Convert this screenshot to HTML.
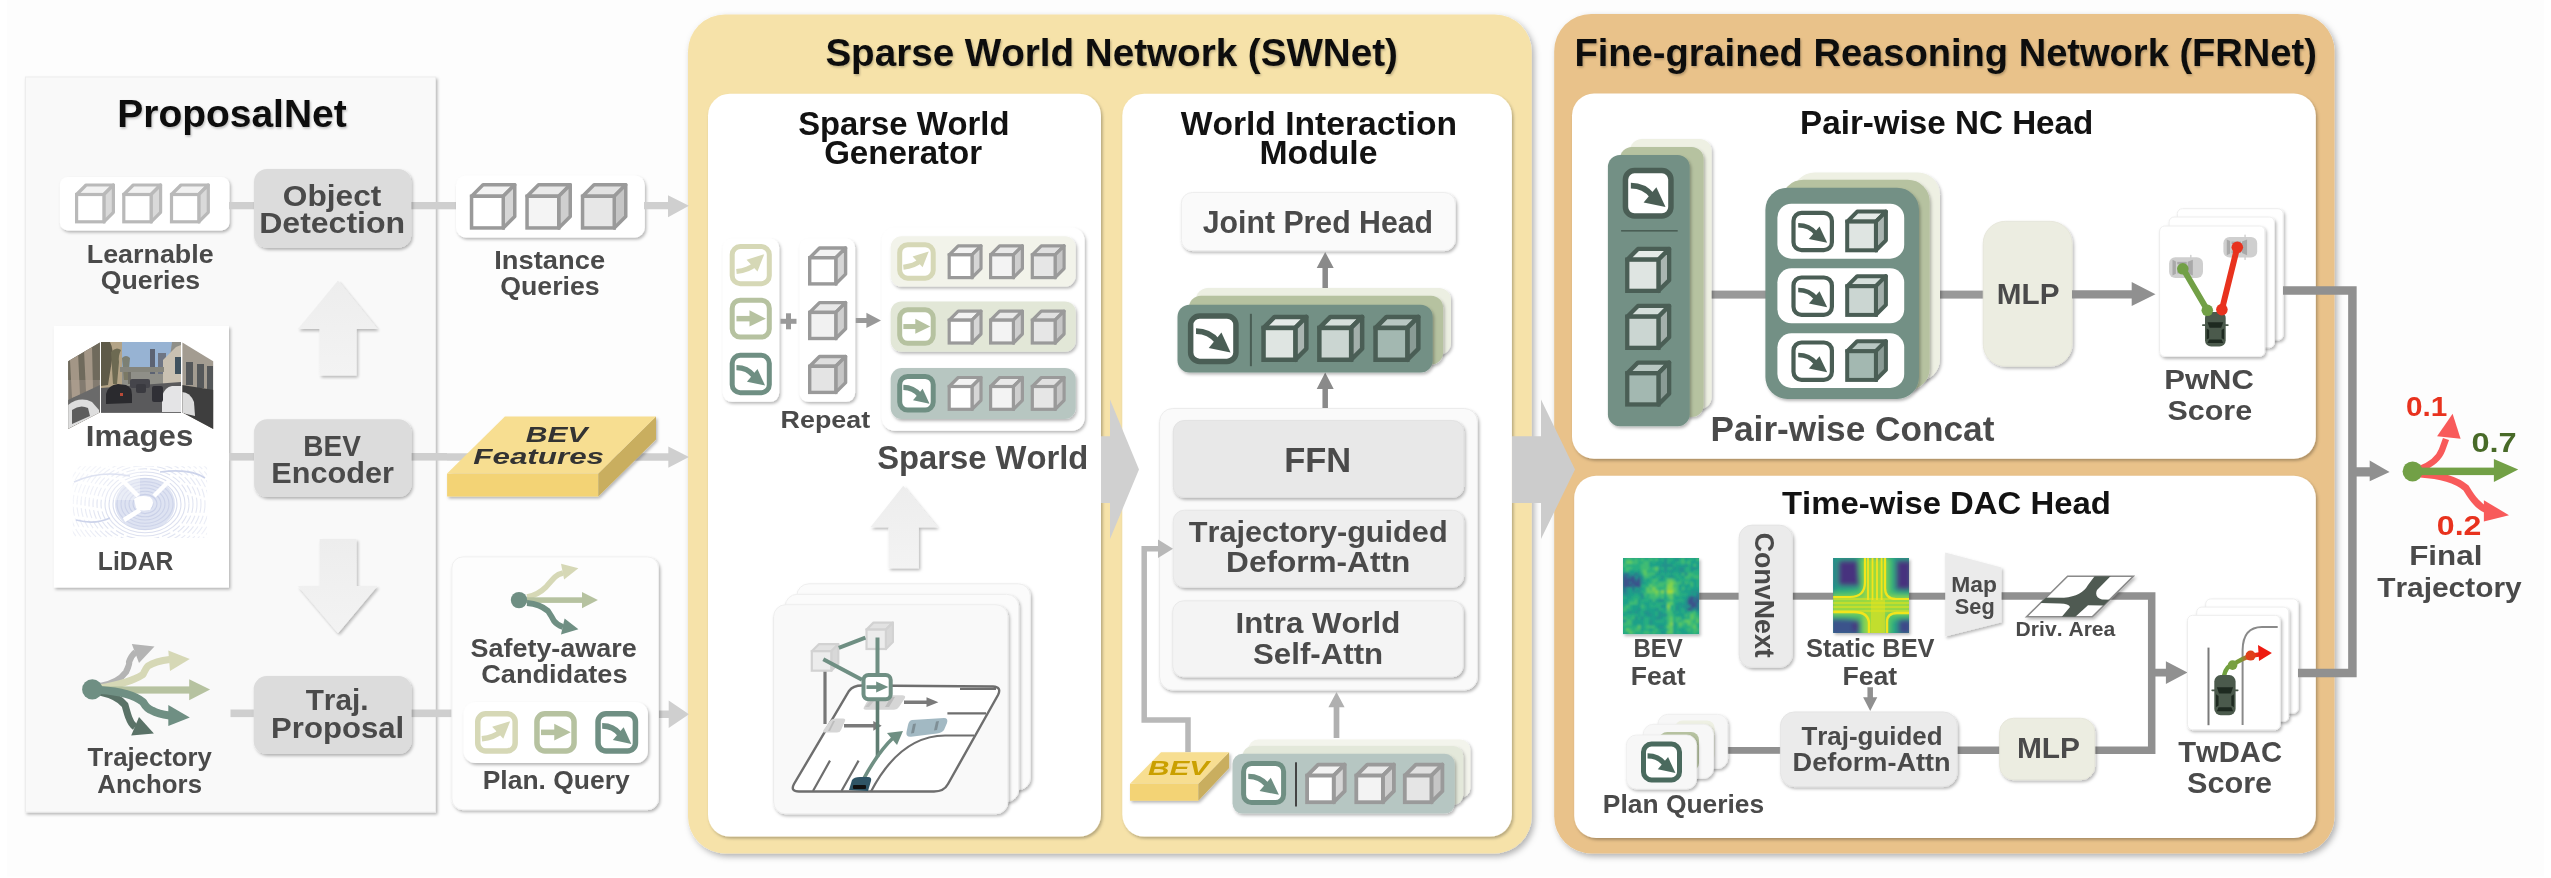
<!DOCTYPE html><html><head><meta charset="utf-8"><style>html,body{margin:0;padding:0;background:#fcfcfc;overflow:hidden;width:2551px;height:878px}text{font-family:"Liberation Sans",sans-serif;font-kerning:none}</style></head><body><svg width="2551" height="878" viewBox="0 0 2551 878" style="display:block;will-change:transform;font-family:'Liberation Sans',sans-serif;font-kerning:none">
<defs>
<filter id="sh" x="-10%" y="-10%" width="130%" height="130%"><feDropShadow dx="1.5" dy="2" stdDeviation="1.6" flood-color="#000" flood-opacity="0.28"/></filter>
<filter id="shb" x="-10%" y="-10%" width="130%" height="130%"><feDropShadow dx="2.5" dy="3" stdDeviation="3" flood-color="#000" flood-opacity="0.3"/></filter>
<filter id="tsh" x="-5%" y="-20%" width="110%" height="150%"><feDropShadow dx="1" dy="1.5" stdDeviation="0.8" flood-color="#000" flood-opacity="0.25"/></filter>
</defs>

<rect x="0.00" y="0.00" width="2551.00" height="878.00" rx="0.00" fill="#ffffff" stroke="none" stroke-width="0.00" />
<rect x="7.00" y="0.00" width="2537.00" height="876.50" rx="0.00" fill="#fdfdfd" stroke="none" stroke-width="0.00" />
<rect x="25.50" y="77.00" width="410.00" height="735.00" rx="0.00" fill="#f9f9f9" stroke="#ededed" stroke-width="1.00" filter="url(#sh)"/>
<text x="117.29" y="126.80" font-size="38.52" textLength="229.38" lengthAdjust="spacingAndGlyphs" fill="#111111" style="font-weight:700;" filter="url(#tsh)">ProposalNet</text>
<rect x="688.00" y="14.50" width="843.70" height="838.90" rx="37.00" fill="#f6e2a9" stroke="none" stroke-width="0.00" filter="url(#shb)"/>
<text x="825.39" y="66.20" font-size="39.68" textLength="572.53" lengthAdjust="spacingAndGlyphs" fill="#111111" style="font-weight:700;" filter="url(#tsh)">Sparse World Network (SWNet)</text>
<rect x="708.00" y="93.70" width="393.00" height="742.90" rx="22.00" fill="#ffffff" stroke="none" stroke-width="0.00" filter="url(#sh)"/>
<rect x="1122.30" y="93.70" width="389.60" height="742.90" rx="22.00" fill="#ffffff" stroke="none" stroke-width="0.00" filter="url(#sh)"/>
<rect x="1554.20" y="14.00" width="780.30" height="839.40" rx="37.00" fill="#e9c28a" stroke="none" stroke-width="0.00" filter="url(#shb)"/>
<text x="1574.45" y="66.20" font-size="39.68" textLength="742.44" lengthAdjust="spacingAndGlyphs" fill="#111111" style="font-weight:700;" filter="url(#tsh)">Fine-grained Reasoning Network (FRNet)</text>
<rect x="1572.00" y="93.60" width="743.80" height="365.10" rx="22.00" fill="#ffffff" stroke="none" stroke-width="0.00" filter="url(#sh)"/>
<rect x="1574.20" y="475.80" width="741.60" height="362.20" rx="22.00" fill="#ffffff" stroke="none" stroke-width="0.00" filter="url(#sh)"/>
<rect x="59.90" y="177.00" width="169.50" height="53.40" rx="8.00" fill="#ffffff" stroke="none" stroke-width="0.00" filter="url(#sh)"/>
<polygon points="76.60,194.50 86.10,185.00 113.40,185.00 103.90,194.50" fill="#f2f2f2" stroke="#b9b9b9" stroke-width="3.20" stroke-linejoin="round"/>
<polygon points="103.90,194.50 113.40,185.00 113.40,212.30 103.90,221.80" fill="#d9d9d9" stroke="#b9b9b9" stroke-width="3.20" stroke-linejoin="round"/>
<rect x="76.60" y="194.50" width="27.30" height="27.30" fill="#ffffff" stroke="#b9b9b9" stroke-width="3.20"/>
<polygon points="123.80,194.50 133.30,185.00 160.60,185.00 151.10,194.50" fill="#f2f2f2" stroke="#b9b9b9" stroke-width="3.20" stroke-linejoin="round"/>
<polygon points="151.10,194.50 160.60,185.00 160.60,212.30 151.10,221.80" fill="#d9d9d9" stroke="#b9b9b9" stroke-width="3.20" stroke-linejoin="round"/>
<rect x="123.80" y="194.50" width="27.30" height="27.30" fill="#ffffff" stroke="#b9b9b9" stroke-width="3.20"/>
<polygon points="171.50,194.50 181.00,185.00 208.30,185.00 198.80,194.50" fill="#f2f2f2" stroke="#b9b9b9" stroke-width="3.20" stroke-linejoin="round"/>
<polygon points="198.80,194.50 208.30,185.00 208.30,212.30 198.80,221.80" fill="#d9d9d9" stroke="#b9b9b9" stroke-width="3.20" stroke-linejoin="round"/>
<rect x="171.50" y="194.50" width="27.30" height="27.30" fill="#ffffff" stroke="#b9b9b9" stroke-width="3.20"/>
<rect x="229.00" y="202.00" width="25.00" height="7.30" rx="0.00" fill="#cfcfcf" stroke="none" stroke-width="0.00" />
<rect x="411.00" y="202.00" width="45.00" height="7.30" rx="0.00" fill="#cfcfcf" stroke="none" stroke-width="0.00" />
<rect x="254.00" y="169.00" width="157.20" height="78.90" rx="13.00" fill="#dcdcdc" stroke="none" stroke-width="0.00" filter="url(#sh)"/>
<text x="282.80" y="205.70" font-size="30.23" textLength="98.48" lengthAdjust="spacingAndGlyphs" fill="#4a4a4a" style="font-weight:700;" >Object</text>
<text x="259.16" y="232.80" font-size="30.23" textLength="146.03" lengthAdjust="spacingAndGlyphs" fill="#4a4a4a" style="font-weight:700;" >Detection</text>
<text x="86.80" y="262.60" font-size="26.02" textLength="126.81" lengthAdjust="spacingAndGlyphs" fill="#4a4a4a" style="font-weight:700;" >Learnable</text>
<text x="100.70" y="288.60" font-size="26.02" textLength="99.49" lengthAdjust="spacingAndGlyphs" fill="#4a4a4a" style="font-weight:700;" >Queries</text>
<rect x="456.00" y="175.40" width="188.80" height="62.10" rx="10.00" fill="#ffffff" stroke="none" stroke-width="0.00" filter="url(#sh)"/>
<polygon points="471.55,196.25 483.05,184.75 514.75,184.75 503.25,196.25" fill="#f3f3f3" stroke="#9a9a9a" stroke-width="3.50" stroke-linejoin="round"/>
<polygon points="503.25,196.25 514.75,184.75 514.75,216.45 503.25,227.95" fill="#d6d6d6" stroke="#9a9a9a" stroke-width="3.50" stroke-linejoin="round"/>
<rect x="471.55" y="196.25" width="31.70" height="31.70" fill="#ffffff" stroke="#9a9a9a" stroke-width="3.50"/>
<polygon points="527.05,196.25 538.55,184.75 570.25,184.75 558.75,196.25" fill="#e9e9e9" stroke="#9a9a9a" stroke-width="3.50" stroke-linejoin="round"/>
<polygon points="558.75,196.25 570.25,184.75 570.25,216.45 558.75,227.95" fill="#cfcfcf" stroke="#9a9a9a" stroke-width="3.50" stroke-linejoin="round"/>
<rect x="527.05" y="196.25" width="31.70" height="31.70" fill="#f4f4f4" stroke="#9a9a9a" stroke-width="3.50"/>
<polygon points="582.55,196.25 594.05,184.75 625.75,184.75 614.25,196.25" fill="#e2e2e2" stroke="#9a9a9a" stroke-width="3.50" stroke-linejoin="round"/>
<polygon points="614.25,196.25 625.75,184.75 625.75,216.45 614.25,227.95" fill="#c6c6c6" stroke="#9a9a9a" stroke-width="3.50" stroke-linejoin="round"/>
<rect x="582.55" y="196.25" width="31.70" height="31.70" fill="#e7e7e7" stroke="#9a9a9a" stroke-width="3.50"/>
<polygon points="644.00,202.00 668.00,202.00 668.00,195.30 689.00,205.65 668.00,217.30 668.00,209.30 644.00,209.30" fill="#cfcfcf" />
<text x="494.27" y="268.90" font-size="25.87" textLength="110.86" lengthAdjust="spacingAndGlyphs" fill="#4a4a4a" style="font-weight:700;" >Instance</text>
<text x="500.31" y="295.40" font-size="25.87" textLength="99.39" lengthAdjust="spacingAndGlyphs" fill="#4a4a4a" style="font-weight:700;" >Queries</text>
<linearGradient id="ga" x1="0" y1="0" x2="0" y2="1"><stop offset="0" stop-color="#ededed"/><stop offset="1" stop-color="#f3f3f3"/></linearGradient>
<polygon points="338.00,280.50 377.50,329.00 356.50,329.00 356.50,375.40 319.80,375.40 319.80,329.00 297.90,329.00" fill="url(#ga)" filter="url(#sh)" opacity="0.95"/>
<polygon points="319.80,538.90 356.50,538.90 356.50,586.00 377.50,586.00 338.00,633.30 297.90,586.00 319.80,586.00" fill="url(#ga)" filter="url(#sh)" opacity="0.95"/>
<rect x="53.90" y="325.90" width="175.10" height="261.60" rx="0.00" fill="#ffffff" stroke="none" stroke-width="0.00" filter="url(#sh)"/>
<rect x="229.00" y="453.00" width="25.00" height="7.60" rx="0.00" fill="#cfcfcf" stroke="none" stroke-width="0.00" />
<rect x="411.00" y="453.00" width="36.00" height="7.60" rx="0.00" fill="#cfcfcf" stroke="none" stroke-width="0.00" />
<clipPath id="cpl"><polygon points="68.2,361.2 99.9,342.4 99.9,412.4 68.2,429"/></clipPath>
<clipPath id="cpr"><polygon points="182.4,342.4 213.2,361.2 213.2,429 182.4,412.4"/></clipPath>
<clipPath id="cpc"><rect x="101" y="342.1" width="80" height="70.6"/></clipPath>
<g clip-path="url(#cpl)">
<rect x="68.00" y="342.00" width="32.00" height="88.00" rx="0.00" fill="#837b70" stroke="none" stroke-width="0.00" />
<rect x="68.00" y="342.00" width="32.00" height="38.00" rx="0.00" fill="#6f6a5c" stroke="none" stroke-width="0.00" />
<path d="M70 360 L78 352 L80 395 L72 398 Z M84 350 L92 345 L93 390 L86 392 Z" fill="#b9aa98" opacity="0.7"/>
<polygon points="68.00,400.00 100.00,385.00 100.00,412.00 68.00,429.00" fill="#6a6a6a" />
<path d="M68 405 Q80 396 92 402 L99 410 L99 413 L68 429 Z" fill="#dedede"/>
<path d="M72 410 Q80 404 88 408 L90 416 L72 424 Z" fill="#3c3c3c" opacity="0.8"/>
</g>
<g clip-path="url(#cpc)">
<rect x="101.00" y="342.00" width="80.00" height="71.00" rx="0.00" fill="#8f8f88" stroke="none" stroke-width="0.00" />
<polygon points="118.00,342.00 172.00,342.00 168.00,372.00 120.00,372.00" fill="#97b3d3" />
<rect x="101.00" y="342.00" width="21.00" height="50.00" rx="0.00" fill="#b3a386" stroke="none" stroke-width="0.00" />
<path d="M101 342 L110 342 Q114 350 112 360 L108 385 L101 386 Z" fill="#5e5a48"/>
<path d="M111 352 Q116 346 121 350 Q118 356 119 362 L117 384 L113 384 Z" fill="#6d6a52"/>
<path d="M122 358 Q126 354 130 358 L128 380 L124 380 Z" fill="#76735c" opacity="0.8"/>
<rect x="150.00" y="349.00" width="5.00" height="25.00" rx="0.00" fill="#5c6372" stroke="none" stroke-width="0.00" />
<rect x="158.00" y="353.00" width="8.00" height="21.00" rx="0.00" fill="#6f7684" stroke="none" stroke-width="0.00" />
<polygon points="163.00,360.00 176.00,347.00 181.00,345.00 181.00,392.00 163.00,390.00" fill="#c9c1b2" />
<rect x="175.00" y="357.00" width="6.00" height="17.00" rx="0.00" fill="#3f525e" stroke="none" stroke-width="0.00" />
<rect x="120.00" y="367.00" width="44.00" height="5.00" rx="0.00" fill="#85857c" stroke="none" stroke-width="0.00" />
<rect x="128.00" y="372.00" width="3.00" height="12.00" rx="0.00" fill="#6e6d65" stroke="none" stroke-width="0.00" />
<polygon points="101.00,388.00 181.00,382.00 181.00,413.00 101.00,413.00" fill="#5a5a5c" />
<rect x="130.00" y="379.00" width="20.00" height="9.00" rx="2.00" fill="#45454b" stroke="none" stroke-width="0.00" />
<path d="M106 394 Q108 385 118 384 L126 385 Q132 387 132 395 L132 403 L106 404 Z" fill="#2a2a2e"/>
<rect x="120.00" y="393.00" width="3.00" height="3.00" rx="0.00" fill="#b84a38" stroke="none" stroke-width="0.00" />
<rect x="136.00" y="384.00" width="10.00" height="9.00" rx="2.00" fill="#3a3a40" stroke="none" stroke-width="0.00" />
<path d="M162 412 L162 396 Q165 387 172 386 L181 386 L181 412 Z" fill="#e4e4e6"/>
<rect x="152.00" y="386.00" width="11.00" height="16.00" rx="2.00" fill="#303036" stroke="none" stroke-width="0.00" />
</g>
<g clip-path="url(#cpr)">
<rect x="182.00" y="342.00" width="32.00" height="88.00" rx="0.00" fill="#a39c91" stroke="none" stroke-width="0.00" />
<rect x="186.00" y="362.00" width="7.00" height="23.00" rx="0.00" fill="#55585a" stroke="none" stroke-width="0.00" />
<rect x="197.00" y="364.00" width="7.00" height="24.00" rx="0.00" fill="#55585a" stroke="none" stroke-width="0.00" />
<rect x="207.00" y="366.00" width="6.00" height="24.00" rx="0.00" fill="#55585a" stroke="none" stroke-width="0.00" />
<polygon points="182.00,385.00 214.00,390.00 214.00,430.00 182.00,413.00" fill="#3e3e3e" />
<path d="M182 392 Q190 392 194 402 L195 416 L182 413 Z" fill="#dcdcdc"/>
</g>
<text x="85.81" y="446.10" font-size="28.78" textLength="107.46" lengthAdjust="spacingAndGlyphs" fill="#4a4a4a" style="font-weight:700;" >Images</text>
<clipPath id="cld"><rect x="72.8" y="466.3" width="134.3" height="71.7"/></clipPath>
<g clip-path="url(#cld)">
<ellipse cx="145" cy="504" rx="30" ry="26" fill="#d3daee" opacity="0.75"/>
<ellipse cx="145" cy="504" rx="8" ry="6.4" fill="none" stroke="#c6cde6" stroke-width="1.1" stroke-dasharray="none" opacity="0.92"/>
<ellipse cx="145" cy="504" rx="12" ry="9.6" fill="none" stroke="#c6cde6" stroke-width="1.1" stroke-dasharray="none" opacity="0.88"/>
<ellipse cx="145" cy="504" rx="16" ry="12.8" fill="none" stroke="#c6cde6" stroke-width="1.1" stroke-dasharray="none" opacity="0.84"/>
<ellipse cx="145" cy="504" rx="20" ry="16.0" fill="none" stroke="#c6cde6" stroke-width="1.1" stroke-dasharray="none" opacity="0.80"/>
<ellipse cx="145" cy="504" rx="24" ry="19.2" fill="none" stroke="#c6cde6" stroke-width="1.1" stroke-dasharray="none" opacity="0.76"/>
<ellipse cx="145" cy="504" rx="28" ry="22.4" fill="none" stroke="#c6cde6" stroke-width="1.1" stroke-dasharray="none" opacity="0.72"/>
<ellipse cx="145" cy="504" rx="32" ry="25.6" fill="none" stroke="#c6cde6" stroke-width="1.1" stroke-dasharray="none" opacity="0.68"/>
<ellipse cx="145" cy="504" rx="36" ry="28.8" fill="none" stroke="#c6cde6" stroke-width="1.1" stroke-dasharray="none" opacity="0.64"/>
<ellipse cx="145" cy="504" rx="40" ry="32.0" fill="none" stroke="#c6cde6" stroke-width="1.1" stroke-dasharray="none" opacity="0.60"/>
<ellipse cx="145" cy="504" rx="44" ry="35.2" fill="none" stroke="#c6cde6" stroke-width="1.1" stroke-dasharray="9 3" opacity="0.56"/>
<ellipse cx="145" cy="504" rx="48" ry="38.4" fill="none" stroke="#c6cde6" stroke-width="1.1" stroke-dasharray="9 3" opacity="0.52"/>
<ellipse cx="145" cy="504" rx="52" ry="41.6" fill="none" stroke="#c6cde6" stroke-width="1.1" stroke-dasharray="9 3" opacity="0.48"/>
<ellipse cx="145" cy="504" rx="56" ry="44.8" fill="none" stroke="#c6cde6" stroke-width="1.1" stroke-dasharray="9 3" opacity="0.44"/>
<ellipse cx="145" cy="504" rx="60" ry="48.0" fill="none" stroke="#c6cde6" stroke-width="1.1" stroke-dasharray="9 3" opacity="0.40"/>
<ellipse cx="145" cy="504" rx="64" ry="51.2" fill="none" stroke="#c6cde6" stroke-width="1.1" stroke-dasharray="9 3" opacity="0.36"/>
<ellipse cx="145" cy="504" rx="68" ry="54.4" fill="none" stroke="#c6cde6" stroke-width="1.1" stroke-dasharray="9 3" opacity="0.32"/>
<ellipse cx="145" cy="504" rx="72" ry="57.6" fill="none" stroke="#c6cde6" stroke-width="1.1" stroke-dasharray="9 3" opacity="0.30"/>
<ellipse cx="145" cy="504" rx="76" ry="60.8" fill="none" stroke="#c6cde6" stroke-width="1.1" stroke-dasharray="9 3" opacity="0.30"/>
<ellipse cx="145" cy="504" rx="80" ry="64.0" fill="none" stroke="#c6cde6" stroke-width="1.1" stroke-dasharray="9 3" opacity="0.30"/>
<path d="M74 482 Q100 470 130 476 M160 472 Q190 468 205 478 M76 520 Q95 525 110 518" stroke="#ccd3ea" stroke-width="1.6" fill="none"/>
<path d="M120 478 L138 496 M170 480 L154 496 M124 520 L140 510" stroke="#ffffff" stroke-width="4.5" fill="none"/>
<path d="M134 499 Q140 494 150 497 Q156 502 150 510 Q140 512 136 508 Z" fill="#ffffff"/>
<rect x="72.00" y="466.00" width="68.00" height="34.00" rx="0.00" fill="#ffffff" stroke="none" stroke-width="0.00" opacity="0.35"/>
</g>
<text x="97.85" y="570.30" font-size="25.44" textLength="75.46" lengthAdjust="spacingAndGlyphs" fill="#4a4a4a" style="font-weight:700;" >LiDAR</text>
<rect x="254.10" y="419.20" width="157.40" height="77.90" rx="13.00" fill="#dcdcdc" stroke="none" stroke-width="0.00" filter="url(#sh)"/>
<text x="303.33" y="456.00" font-size="30.23" textLength="57.46" lengthAdjust="spacingAndGlyphs" fill="#4a4a4a" style="font-weight:700;" >BEV</text>
<text x="271.25" y="483.00" font-size="30.23" textLength="122.61" lengthAdjust="spacingAndGlyphs" fill="#4a4a4a" style="font-weight:700;" >Encoder</text>
<polygon points="447.00,453.30 668.30,453.30 668.30,446.50 689.00,457.05 668.30,467.70 668.30,460.80 447.00,460.80" fill="#cfcfcf" />
<g filter="url(#sh)">
<polygon points="447.10,473.50 598.30,473.50 598.30,496.40 447.10,496.40" fill="#f3d375" />
<polygon points="598.30,473.50 656.00,416.40 656.00,439.60 598.30,496.40" fill="#c9ae5f" />
<polygon points="447.10,473.50 504.90,416.40 656.00,416.40 598.30,473.50" fill="#f7de91" />
</g>
<text x="525.87" y="441.70" font-size="21.80" textLength="61.73" lengthAdjust="spacingAndGlyphs" fill="#333333" style="font-weight:700;font-style:italic;" >BEV</text>
<text x="473.35" y="463.60" font-size="21.80" textLength="130.72" lengthAdjust="spacingAndGlyphs" fill="#333333" style="font-weight:700;font-style:italic;" >Features</text>
<rect x="230.50" y="709.50" width="23.50" height="7.60" rx="0.00" fill="#cfcfcf" stroke="none" stroke-width="0.00" />
<rect x="411.00" y="709.50" width="41.00" height="7.60" rx="0.00" fill="#cfcfcf" stroke="none" stroke-width="0.00" />
<rect x="253.70" y="676.10" width="157.80" height="77.90" rx="13.00" fill="#dcdcdc" stroke="none" stroke-width="0.00" filter="url(#sh)"/>
<text x="305.67" y="709.50" font-size="29.22" textLength="62.78" lengthAdjust="spacingAndGlyphs" fill="#4a4a4a" style="font-weight:700;" >Traj.</text>
<text x="271.12" y="737.60" font-size="29.22" textLength="132.98" lengthAdjust="spacingAndGlyphs" fill="#4a4a4a" style="font-weight:700;" >Proposal</text>
<path d="M100 686 Q118 683 126 672 Q130 664 129 662 Q131 656 135.5 652" fill="none" stroke="#b4b4b4" stroke-width="6.20" stroke-linecap="butt" stroke-linejoin="round" />
<polygon points="131.80,644.00 154.50,646.40 139.00,663.10" fill="#b4b4b4" />
<path d="M100 688 Q130 683 143 674.5 Q146 668 148 666 Q156 661 169.5 659.5" fill="none" stroke="#d6d8b6" stroke-width="7.00" stroke-linecap="butt" stroke-linejoin="round" />
<polygon points="168.30,650.50 189.80,658.90 170.00,670.90" fill="#d6d8b6" />
<rect x="100.00" y="686.40" width="90.00" height="7.20" rx="0.00" fill="#b6c2a0" stroke="none" stroke-width="0.00" />
<polygon points="189.20,679.20 210.10,689.40 189.20,700.20" fill="#b6c2a0" />
<path d="M100 692 Q118 696 125 705 Q128 716 129 718 Q131 724 135 727" fill="none" stroke="#5a7267" stroke-width="7.00" stroke-linecap="butt" stroke-linejoin="round" />
<polygon points="131.20,735.40 153.90,733.60 139.00,716.90" fill="#5a7267" />
<path d="M100 690 Q131 692 143 702 Q147 709 152 710.5 Q158 714 169.5 715.5" fill="none" stroke="#6f8f83" stroke-width="8.00" stroke-linecap="butt" stroke-linejoin="round" />
<polygon points="168.30,705.00 189.80,717.50 168.30,725.90" fill="#6f8f83" />
<circle cx="92.3" cy="689.4" r="10.2" fill="#6f8f83"/>
<text x="87.41" y="765.70" font-size="25.00" textLength="124.43" lengthAdjust="spacingAndGlyphs" fill="#4a4a4a" style="font-weight:700;" >Trajectory</text>
<text x="97.26" y="793.00" font-size="25.00" textLength="104.80" lengthAdjust="spacingAndGlyphs" fill="#4a4a4a" style="font-weight:700;" >Anchors</text>
<polygon points="658.00,710.40 668.70,710.40 668.70,700.50 689.00,714.20 668.70,728.00 668.70,718.00 658.00,718.00" fill="#cfcfcf" />
<rect x="451.90" y="556.90" width="206.50" height="252.80" rx="11.00" fill="#fdfdfd" stroke="#f0f0f0" stroke-width="1.00" filter="url(#sh)"/>
<path d="M527 597 Q538 595 546 587 Q552 580 555 577 Q558 574 563 573" fill="none" stroke="#d6d8b6" stroke-width="5.50" stroke-linecap="butt" stroke-linejoin="round" />
<polygon points="561.00,563.70 578.40,568.30 564.10,579.60" fill="#d6d8b6" />
<rect x="525.00" y="597.30" width="58.00" height="5.60" rx="0.00" fill="#b6c2a0" stroke="none" stroke-width="0.00" />
<polygon points="582.00,591.90 597.90,600.10 582.00,608.30" fill="#b6c2a0" />
<path d="M527 603 Q540 604 548 611 Q552 617 554 621 Q557 625 563 627" fill="none" stroke="#6f8f83" stroke-width="5.80" stroke-linecap="butt" stroke-linejoin="round" />
<polygon points="564.60,618.60 578.40,629.30 561.00,634.40" fill="#6f8f83" />
<circle cx="519" cy="600.1" r="8.2" fill="#6f8f83"/>
<text x="470.52" y="657.20" font-size="25.87" textLength="166.20" lengthAdjust="spacingAndGlyphs" fill="#4a4a4a" style="font-weight:700;" >Safety-aware</text>
<text x="481.19" y="682.80" font-size="25.87" textLength="146.33" lengthAdjust="spacingAndGlyphs" fill="#4a4a4a" style="font-weight:700;" >Candidates</text>
<rect x="463.50" y="701.90" width="184.40" height="61.00" rx="12.00" fill="#ffffff" stroke="none" stroke-width="0.00" filter="url(#sh)"/>
<rect x="477.75" y="713.75" width="37.40" height="37.20" rx="8.00" fill="#ffffff" stroke="#d6d8b6" stroke-width="5.50" />
<path d="M481.86 738.75 Q494.31 737.47 500.74 731.50" fill="none" stroke="#d6d8b6" stroke-width="5.50" stroke-linecap="butt" stroke-linejoin="round" />
<polygon points="492.16,726.80 510.18,721.25 503.31,738.75" fill="#d6d8b6" />
<rect x="536.95" y="713.75" width="37.10" height="37.20" rx="8.00" fill="#ffffff" stroke="#b6c2a0" stroke-width="5.50" />
<rect x="541.02" y="729.57" width="14.48" height="5.55" rx="0.00" fill="#b6c2a0" stroke="none" stroke-width="0.00" />
<polygon points="554.22,723.81 570.84,732.35 554.22,740.46" fill="#b6c2a0" />
<rect x="598.05" y="713.75" width="37.40" height="37.20" rx="8.00" fill="#ffffff" stroke="#6f8f83" stroke-width="5.50" />
<path d="M602.16 725.95 Q613.32 725.95 620.18 734.49" fill="none" stroke="#6f8f83" stroke-width="5.78" stroke-linecap="butt" stroke-linejoin="round" />
<polygon points="623.61,727.23 631.34,743.88 612.89,740.04" fill="#6f8f83" />
<text x="482.73" y="788.70" font-size="25.44" textLength="146.91" lengthAdjust="spacingAndGlyphs" fill="#4a4a4a" style="font-weight:700;" >Plan. Query</text>
<text x="798.26" y="135.00" font-size="33.14" textLength="211.20" lengthAdjust="spacingAndGlyphs" fill="#121212" style="font-weight:700;" >Sparse World</text>
<text x="824.14" y="163.80" font-size="33.14" textLength="157.96" lengthAdjust="spacingAndGlyphs" fill="#121212" style="font-weight:700;" >Generator</text>
<rect x="722.80" y="238.50" width="56.40" height="163.30" rx="9.00" fill="#ffffff" stroke="none" stroke-width="0.00" filter="url(#sh)"/>
<rect x="732.20" y="246.60" width="37.10" height="37.10" rx="8.00" fill="#ffffff" stroke="#d6d8b6" stroke-width="5.00" />
<path d="M736.44 271.46 Q748.64 270.20 754.96 264.31" fill="none" stroke="#d6d8b6" stroke-width="5.00" stroke-linecap="butt" stroke-linejoin="round" />
<polygon points="746.54,259.68 764.22,254.20 757.49,271.46" fill="#d6d8b6" />
<rect x="732.20" y="300.20" width="37.10" height="36.90" rx="8.00" fill="#ffffff" stroke="#b6c2a0" stroke-width="5.00" />
<rect x="736.44" y="315.93" width="14.31" height="5.45" rx="0.00" fill="#b6c2a0" stroke="none" stroke-width="0.00" />
<polygon points="749.49,310.27 765.91,318.65 749.49,326.61" fill="#b6c2a0" />
<rect x="732.20" y="355.30" width="37.10" height="37.40" rx="8.00" fill="#ffffff" stroke="#6f8f83" stroke-width="5.00" />
<path d="M736.44 367.64 Q747.38 367.64 754.12 376.12" fill="none" stroke="#6f8f83" stroke-width="5.25" stroke-linecap="butt" stroke-linejoin="round" />
<polygon points="757.49,368.91 765.06,385.45 746.96,381.63" fill="#6f8f83" />
<rect x="780.50" y="318.80" width="16.00" height="5.00" rx="0.00" fill="#999999" stroke="none" stroke-width="0.00" />
<rect x="786.00" y="313.30" width="5.00" height="16.00" rx="0.00" fill="#999999" stroke="none" stroke-width="0.00" />
<rect x="799.50" y="238.50" width="55.60" height="163.30" rx="9.00" fill="#ffffff" stroke="none" stroke-width="0.00" filter="url(#sh)"/>
<polygon points="809.70,257.80 819.50,248.00 845.60,248.00 835.80,257.80" fill="#f3f3f3" stroke="#9a9a9a" stroke-width="3.40" stroke-linejoin="round"/>
<polygon points="835.80,257.80 845.60,248.00 845.60,274.10 835.80,283.90" fill="#d6d6d6" stroke="#9a9a9a" stroke-width="3.40" stroke-linejoin="round"/>
<rect x="809.70" y="257.80" width="26.10" height="26.10" fill="#ffffff" stroke="#9a9a9a" stroke-width="3.40"/>
<polygon points="809.70,312.40 819.50,302.60 845.60,302.60 835.80,312.40" fill="#e8e8e8" stroke="#9a9a9a" stroke-width="3.40" stroke-linejoin="round"/>
<polygon points="835.80,312.40 845.60,302.60 845.60,328.70 835.80,338.50" fill="#cfcfcf" stroke="#9a9a9a" stroke-width="3.40" stroke-linejoin="round"/>
<rect x="809.70" y="312.40" width="26.10" height="26.10" fill="#f1f1f1" stroke="#9a9a9a" stroke-width="3.40"/>
<polygon points="809.70,366.30 819.50,356.50 845.60,356.50 835.80,366.30" fill="#dedede" stroke="#9a9a9a" stroke-width="3.40" stroke-linejoin="round"/>
<polygon points="835.80,366.30 845.60,356.50 845.60,382.60 835.80,392.40" fill="#c6c6c6" stroke="#9a9a9a" stroke-width="3.40" stroke-linejoin="round"/>
<rect x="809.70" y="366.30" width="26.10" height="26.10" fill="#e4e4e4" stroke="#9a9a9a" stroke-width="3.40"/>
<polygon points="855.80,318.00 866.40,318.00 866.40,312.70 881.00,320.50 866.40,327.90 866.40,323.00 855.80,323.00" fill="#999999" />
<text x="780.60" y="427.80" font-size="24.27" textLength="89.52" lengthAdjust="spacingAndGlyphs" fill="#4a4a4a" style="font-weight:700;" >Repeat</text>
<rect x="881.80" y="227.40" width="202.80" height="203.40" rx="13.00" fill="#ffffff" stroke="none" stroke-width="0.00" filter="url(#sh)"/>
<rect x="890.70" y="236.30" width="185.00" height="50.30" rx="11.00" fill="#f2f3ea" stroke="none" stroke-width="0.00" filter="url(#sh)"/>
<rect x="899.70" y="244.70" width="33.50" height="33.50" rx="8.00" fill="#ffffff" stroke="#d6d8b6" stroke-width="5.00" />
<path d="M903.36 267.22 Q914.53 266.07 920.30 260.68" fill="none" stroke="#d6d8b6" stroke-width="5.00" stroke-linecap="butt" stroke-linejoin="round" />
<polygon points="912.60,256.44 928.77,251.44 922.61,267.22" fill="#d6d8b6" />
<polygon points="949.20,254.80 958.20,245.80 981.00,245.80 972.00,254.80" fill="#f3f3f3" stroke="#9a9a9a" stroke-width="3.20" stroke-linejoin="round"/>
<polygon points="972.00,254.80 981.00,245.80 981.00,268.60 972.00,277.60" fill="#d6d6d6" stroke="#9a9a9a" stroke-width="3.20" stroke-linejoin="round"/>
<rect x="949.20" y="254.80" width="22.80" height="22.80" fill="#ffffff" stroke="#9a9a9a" stroke-width="3.20"/>
<polygon points="990.60,254.80 999.60,245.80 1022.40,245.80 1013.40,254.80" fill="#e9e9e9" stroke="#9a9a9a" stroke-width="3.20" stroke-linejoin="round"/>
<polygon points="1013.40,254.80 1022.40,245.80 1022.40,268.60 1013.40,277.60" fill="#cfcfcf" stroke="#9a9a9a" stroke-width="3.20" stroke-linejoin="round"/>
<rect x="990.60" y="254.80" width="22.80" height="22.80" fill="#f3f3f3" stroke="#9a9a9a" stroke-width="3.20"/>
<polygon points="1032.30,254.80 1041.30,245.80 1064.10,245.80 1055.10,254.80" fill="#e0e0e0" stroke="#9a9a9a" stroke-width="3.20" stroke-linejoin="round"/>
<polygon points="1055.10,254.80 1064.10,245.80 1064.10,268.60 1055.10,277.60" fill="#c6c6c6" stroke="#9a9a9a" stroke-width="3.20" stroke-linejoin="round"/>
<rect x="1032.30" y="254.80" width="22.80" height="22.80" fill="#e6e6e6" stroke="#9a9a9a" stroke-width="3.20"/>
<rect x="890.70" y="301.40" width="185.00" height="50.30" rx="11.00" fill="#e2e7d7" stroke="none" stroke-width="0.00" filter="url(#sh)"/>
<rect x="899.70" y="309.80" width="33.50" height="33.50" rx="8.00" fill="#ffffff" stroke="#b6c2a0" stroke-width="5.00" />
<rect x="903.36" y="324.05" width="13.09" height="5.00" rx="0.00" fill="#b6c2a0" stroke="none" stroke-width="0.00" />
<polygon points="915.30,318.85 930.31,326.55 915.30,333.87" fill="#b6c2a0" />
<polygon points="949.20,320.20 958.20,311.20 981.00,311.20 972.00,320.20" fill="#f3f3f3" stroke="#9a9a9a" stroke-width="3.20" stroke-linejoin="round"/>
<polygon points="972.00,320.20 981.00,311.20 981.00,334.00 972.00,343.00" fill="#d6d6d6" stroke="#9a9a9a" stroke-width="3.20" stroke-linejoin="round"/>
<rect x="949.20" y="320.20" width="22.80" height="22.80" fill="#ffffff" stroke="#9a9a9a" stroke-width="3.20"/>
<polygon points="990.60,320.20 999.60,311.20 1022.40,311.20 1013.40,320.20" fill="#e9e9e9" stroke="#9a9a9a" stroke-width="3.20" stroke-linejoin="round"/>
<polygon points="1013.40,320.20 1022.40,311.20 1022.40,334.00 1013.40,343.00" fill="#cfcfcf" stroke="#9a9a9a" stroke-width="3.20" stroke-linejoin="round"/>
<rect x="990.60" y="320.20" width="22.80" height="22.80" fill="#f3f3f3" stroke="#9a9a9a" stroke-width="3.20"/>
<polygon points="1032.30,320.20 1041.30,311.20 1064.10,311.20 1055.10,320.20" fill="#e0e0e0" stroke="#9a9a9a" stroke-width="3.20" stroke-linejoin="round"/>
<polygon points="1055.10,320.20 1064.10,311.20 1064.10,334.00 1055.10,343.00" fill="#c6c6c6" stroke="#9a9a9a" stroke-width="3.20" stroke-linejoin="round"/>
<rect x="1032.30" y="320.20" width="22.80" height="22.80" fill="#e6e6e6" stroke="#9a9a9a" stroke-width="3.20"/>
<rect x="890.70" y="368.00" width="185.00" height="50.90" rx="11.00" fill="#b7c6c1" stroke="none" stroke-width="0.00" filter="url(#sh)"/>
<rect x="899.70" y="376.50" width="33.50" height="33.50" rx="8.00" fill="#ffffff" stroke="#6f8f83" stroke-width="5.00" />
<path d="M903.36 387.48 Q913.37 387.48 919.53 395.18" fill="none" stroke="#6f8f83" stroke-width="5.25" stroke-linecap="butt" stroke-linejoin="round" />
<polygon points="922.61,388.63 929.54,403.64 912.99,400.18" fill="#6f8f83" />
<polygon points="949.20,386.50 958.20,377.50 981.00,377.50 972.00,386.50" fill="#f3f3f3" stroke="#9a9a9a" stroke-width="3.20" stroke-linejoin="round"/>
<polygon points="972.00,386.50 981.00,377.50 981.00,400.30 972.00,409.30" fill="#d6d6d6" stroke="#9a9a9a" stroke-width="3.20" stroke-linejoin="round"/>
<rect x="949.20" y="386.50" width="22.80" height="22.80" fill="#ffffff" stroke="#9a9a9a" stroke-width="3.20"/>
<polygon points="990.60,386.50 999.60,377.50 1022.40,377.50 1013.40,386.50" fill="#e9e9e9" stroke="#9a9a9a" stroke-width="3.20" stroke-linejoin="round"/>
<polygon points="1013.40,386.50 1022.40,377.50 1022.40,400.30 1013.40,409.30" fill="#cfcfcf" stroke="#9a9a9a" stroke-width="3.20" stroke-linejoin="round"/>
<rect x="990.60" y="386.50" width="22.80" height="22.80" fill="#f3f3f3" stroke="#9a9a9a" stroke-width="3.20"/>
<polygon points="1032.30,386.50 1041.30,377.50 1064.10,377.50 1055.10,386.50" fill="#e0e0e0" stroke="#9a9a9a" stroke-width="3.20" stroke-linejoin="round"/>
<polygon points="1055.10,386.50 1064.10,377.50 1064.10,400.30 1055.10,409.30" fill="#c6c6c6" stroke="#9a9a9a" stroke-width="3.20" stroke-linejoin="round"/>
<rect x="1032.30" y="386.50" width="22.80" height="22.80" fill="#e6e6e6" stroke="#9a9a9a" stroke-width="3.20"/>
<text x="877.16" y="469.10" font-size="33.58" textLength="211.20" lengthAdjust="spacingAndGlyphs" fill="#4a4a4a" style="font-weight:700;" >Sparse World</text>
<polygon points="903.30,485.80 937.40,527.20 918.80,527.20 918.80,568.30 888.60,568.30 888.60,527.20 870.40,527.20" fill="url(#ga)" filter="url(#sh)"/>
<rect x="796.80" y="583.80" width="233.50" height="206.00" rx="12.00" fill="#fbfbfb" stroke="#eeeeee" stroke-width="1.00" filter="url(#sh)"/>
<rect x="785.20" y="594.30" width="233.50" height="207.20" rx="12.00" fill="#fbfbfb" stroke="#eeeeee" stroke-width="1.00" filter="url(#sh)"/>
<rect x="773.60" y="604.70" width="234.30" height="209.10" rx="12.00" fill="#f9f9f9" stroke="#eeeeee" stroke-width="1.00" filter="url(#sh)"/>
<path d="M799 791.5 Q790 791.5 794 784 L849 691 Q853 685.5 862 685.5 L993 686.5 Q1002 687 998 695 L948 784 Q944 791.5 934 791.5 Z" fill="#ffffff" stroke="#6e6e6e" stroke-width="2.4"/>
<path d="M871 791.5 Q900 736 945 735.5 L974 735.5" fill="none" stroke="#6e6e6e" stroke-width="2.2"/>
<path d="M947.4 713.4 L986 713.4 M960 688.8 L996 688.8 M813 791 L830 760.6 M841.5 791 L858.6 760.6" fill="none" stroke="#6e6e6e" stroke-width="2.2"/>
<rect x="823.40" y="662.00" width="3.20" height="62.00" rx="0.00" fill="#777777" stroke="none" stroke-width="0.00" />
<path d="M836 718.5 L843 718.5 Q846 718.5 845 721 L841 730 Q840 732.6 837 732.6 L825 732.6 Q822 732.6 823.5 730 L830 721 Q831.5 718.5 836 718.5 Z" fill="#d6d6d6"/>
<polygon points="833.00,721.00 835.00,721.00 830.00,731.00 828.00,731.00" fill="#bdbdbd" />
<path d="M872 695.3 L902 695.3 Q906 695.3 905 698 L899 707 Q897.5 709.7 894 709.7 L866 709.7 Q862.5 709.7 864 707 L869 698 Q870.5 695.3 872 695.3 Z" fill="#d6d6d6"/>
<polygon points="891.00,697.00 895.00,697.00 889.00,707.00 885.00,707.00" fill="#bdbdbd" />
<polygon points="870.00,701.00 874.00,701.00 869.00,707.00 865.00,707.00" fill="#c4c4c4" />
<polygon points="844.00,724.10 873.30,724.10 873.30,721.00 881.70,725.80 873.30,730.70 873.30,727.50 844.00,727.50" fill="#7a7a7a" />
<polygon points="904.00,700.50 926.50,700.50 926.50,697.20 938.40,702.20 926.50,706.90 926.50,703.90 904.00,703.90" fill="#7a7a7a" />
<polygon points="811.80,651.20 818.80,644.20 838.30,644.20 831.30,651.20" fill="#e2e2e2" stroke="#d2d2d2" stroke-width="2.20" stroke-linejoin="round"/>
<polygon points="831.30,651.20 838.30,644.20 838.30,663.70 831.30,670.70" fill="#d8d8d8" stroke="#d2d2d2" stroke-width="2.20" stroke-linejoin="round"/>
<rect x="811.80" y="651.20" width="19.50" height="19.50" fill="#ececec" stroke="#d2d2d2" stroke-width="2.20"/>
<polygon points="866.50,629.60 873.50,622.60 892.90,622.60 885.90,629.60" fill="#e2e2e2" stroke="#d2d2d2" stroke-width="2.20" stroke-linejoin="round"/>
<polygon points="885.90,629.60 892.90,622.60 892.90,642.00 885.90,649.00" fill="#d8d8d8" stroke="#d2d2d2" stroke-width="2.20" stroke-linejoin="round"/>
<rect x="866.50" y="629.60" width="19.40" height="19.40" fill="#ececec" stroke="#d2d2d2" stroke-width="2.20"/>
<path d="M838.8 647.8 L865.4 637.6 M823.3 659.2 L862 679.7 M877.5 637.6 L877.5 674" stroke="#6f8f83" stroke-width="4" fill="none"/>
<rect x="875.70" y="700.00" width="3.60" height="57.10" rx="0.00" fill="#5f7d72" stroke="none" stroke-width="0.00" />
<path d="M912 720 L944 717.9 Q948.5 718 947 723 L944 730 Q942 733 937 733.4 L911 736.7 Q905.5 737 906.5 732 L908 725 Q909 720.5 912 720 Z" fill="#a2b9c3"/>
<polygon points="913.00,724.00 916.00,723.50 914.00,733.00 911.00,733.50" fill="#7f8f96" />
<polygon points="936.00,721.50 939.00,721.00 937.00,730.00 934.00,730.50" fill="#7f8f96" />
<path d="M863 780 Q878 752 894 737" stroke="#6f8f83" stroke-width="3.6" fill="none"/>
<polygon points="887.00,733.00 903.00,731.00 897.00,745.00" fill="#6f8f83" />
<path d="M849 790 L852 780 Q854 777 860 777 L868 777 Q872 777 871 781 L868 791 Z" fill="#2f5566"/>
<rect x="853.00" y="785.00" width="13.00" height="4.00" rx="1.00" fill="#111111" stroke="none" stroke-width="0.00" />
<rect x="863.50" y="674.90" width="27.20" height="24.40" rx="5.00" fill="#ffffff" stroke="#6f8f83" stroke-width="4.00" />
<rect x="866.49" y="685.25" width="10.61" height="3.69" rx="0.00" fill="#6f8f83" stroke="none" stroke-width="0.00" />
<polygon points="876.16,681.42 888.33,687.10 876.16,692.50" fill="#6f8f83" />
<text x="1180.67" y="135.20" font-size="33.14" textLength="276.32" lengthAdjust="spacingAndGlyphs" fill="#121212" style="font-weight:700;" >World Interaction</text>
<text x="1259.44" y="163.50" font-size="33.14" textLength="118.01" lengthAdjust="spacingAndGlyphs" fill="#121212" style="font-weight:700;" >Module</text>
<rect x="1181.30" y="192.50" width="274.00" height="58.10" rx="11.00" fill="#fafafa" stroke="#eeeeee" stroke-width="1.00" filter="url(#sh)"/>
<text x="1202.74" y="233.20" font-size="31.25" textLength="230.35" lengthAdjust="spacingAndGlyphs" fill="#4a4a4a" style="font-weight:700;" >Joint Pred Head</text>
<polygon points="1325.20,252.00 1333.70,267.90 1327.95,267.90 1327.95,288.00 1322.45,288.00 1322.45,267.90 1316.70,267.90" fill="#8a8a8a" />
<polygon points="1325.20,372.60 1333.70,389.00 1327.95,389.00 1327.95,409.50 1322.45,409.50 1322.45,389.00 1316.70,389.00" fill="#8a8a8a" />
<rect x="1195.90" y="287.90" width="255.10" height="66.80" rx="12.00" fill="#ecefe2" stroke="none" stroke-width="0.00" filter="url(#sh)"/>
<rect x="1188.90" y="295.80" width="254.20" height="68.80" rx="12.00" fill="#b6c2a0" stroke="none" stroke-width="0.00" filter="url(#sh)"/>
<rect x="1177.50" y="304.80" width="255.20" height="67.80" rx="12.00" fill="#739085" stroke="none" stroke-width="0.00" filter="url(#sh)"/>
<rect x="1190.65" y="315.95" width="45.30" height="45.50" rx="9.00" fill="#ffffff" stroke="#4a5e55" stroke-width="5.50" />
<path d="M1196.03 331.05 Q1209.24 331.05 1217.36 341.25" fill="none" stroke="#4a5e55" stroke-width="5.78" stroke-linecap="butt" stroke-linejoin="round" />
<polygon points="1221.43,332.58 1230.57,352.47 1208.73,347.88" fill="#4a5e55" />
<rect x="1249.90" y="313.80" width="2.00" height="52.40" rx="0.00" fill="#4a5e55" stroke="none" stroke-width="0.00" />
<polygon points="1263.55,327.95 1274.55,316.95 1306.35,316.95 1295.35,327.95" fill="#e5ebe8" stroke="#4a5e55" stroke-width="4.50" stroke-linejoin="round"/>
<polygon points="1295.35,327.95 1306.35,316.95 1306.35,348.75 1295.35,359.75" fill="#aab5b1" stroke="#4a5e55" stroke-width="4.50" stroke-linejoin="round"/>
<rect x="1263.55" y="327.95" width="31.80" height="31.80" fill="#dfe5e2" stroke="#4a5e55" stroke-width="4.50"/>
<polygon points="1319.35,327.95 1330.35,316.95 1362.15,316.95 1351.15,327.95" fill="#d5dfdb" stroke="#4a5e55" stroke-width="4.50" stroke-linejoin="round"/>
<polygon points="1351.15,327.95 1362.15,316.95 1362.15,348.75 1351.15,359.75" fill="#a3afab" stroke="#4a5e55" stroke-width="4.50" stroke-linejoin="round"/>
<rect x="1319.35" y="327.95" width="31.80" height="31.80" fill="#cbd6d2" stroke="#4a5e55" stroke-width="4.50"/>
<polygon points="1375.55,327.95 1386.55,316.95 1418.35,316.95 1407.35,327.95" fill="#b8c7c2" stroke="#4a5e55" stroke-width="4.50" stroke-linejoin="round"/>
<polygon points="1407.35,327.95 1418.35,316.95 1418.35,348.75 1407.35,359.75" fill="#8a9b95" stroke="#4a5e55" stroke-width="4.50" stroke-linejoin="round"/>
<rect x="1375.55" y="327.95" width="31.80" height="31.80" fill="#a3b8b1" stroke="#4a5e55" stroke-width="4.50"/>
<rect x="1159.60" y="408.50" width="317.80" height="281.50" rx="13.00" fill="#fafafa" stroke="#ececec" stroke-width="1.00" filter="url(#sh)"/>
<rect x="1173.20" y="420.50" width="290.50" height="76.90" rx="11.00" fill="#e8e8e8" stroke="#e0e0e0" stroke-width="0.80" filter="url(#sh)"/>
<text x="1284.20" y="472.20" font-size="35.61" textLength="66.92" lengthAdjust="spacingAndGlyphs" fill="#4a4a4a" style="font-weight:700;" >FFN</text>
<rect x="1173.20" y="510.20" width="290.50" height="77.10" rx="11.00" fill="#eeeeee" stroke="#e4e4e4" stroke-width="0.80" filter="url(#sh)"/>
<text x="1188.76" y="542.00" font-size="30.23" textLength="258.86" lengthAdjust="spacingAndGlyphs" fill="#4a4a4a" style="font-weight:700;" >Trajectory-guided</text>
<text x="1226.09" y="572.40" font-size="30.23" textLength="184.17" lengthAdjust="spacingAndGlyphs" fill="#4a4a4a" style="font-weight:700;" >Deform-Attn</text>
<rect x="1172.70" y="600.80" width="290.50" height="76.10" rx="11.00" fill="#f4f4f4" stroke="#e6e6e6" stroke-width="0.80" filter="url(#sh)"/>
<text x="1235.61" y="632.70" font-size="29.80" textLength="164.75" lengthAdjust="spacingAndGlyphs" fill="#4a4a4a" style="font-weight:700;" >Intra World</text>
<text x="1253.00" y="664.10" font-size="29.80" textLength="130.14" lengthAdjust="spacingAndGlyphs" fill="#4a4a4a" style="font-weight:700;" >Self-Attn</text>
<path d="M1188 752.3 L1188 720 L1144.2 720 L1144.2 548.8 L1160 548.8" fill="none" stroke="#b8b8b8" stroke-width="5.5"/>
<polygon points="1158.00,539.50 1173.00,548.80 1158.00,558.00" fill="#b8b8b8" />
<polygon points="1336.50,692.00 1344.60,707.30 1339.35,707.30 1339.35,738.10 1333.65,738.10 1333.65,707.30 1328.40,707.30" fill="#b0b0b0" />
<g filter="url(#sh)">
<polygon points="1130.00,783.70 1198.40,783.70 1198.40,800.80 1130.00,800.80" fill="#f3d375" />
<polygon points="1198.40,783.70 1229.10,752.30 1229.10,768.00 1198.40,800.80" fill="#c9ae5f" />
<polygon points="1130.00,783.70 1161.00,752.30 1229.10,752.30 1198.40,783.70" fill="#f7de91" />
</g>
<text x="1147.98" y="775.10" font-size="20.64" textLength="61.15" lengthAdjust="spacingAndGlyphs" fill="#caa000" style="font-weight:700;font-style:italic;" >BEV</text>
<rect x="1248.20" y="739.50" width="222.10" height="58.40" rx="10.00" fill="#f3f4ec" stroke="none" stroke-width="0.00" filter="url(#sh)"/>
<rect x="1242.50" y="746.10" width="220.70" height="58.90" rx="10.00" fill="#e3e8da" stroke="none" stroke-width="0.00" filter="url(#sh)"/>
<rect x="1232.50" y="753.80" width="222.20" height="59.80" rx="10.00" fill="#b6c6c2" stroke="none" stroke-width="0.00" filter="url(#sh)"/>
<rect x="1243.60" y="763.40" width="40.00" height="39.10" rx="8.00" fill="#ffffff" stroke="#6f8f83" stroke-width="5.00" />
<path d="M1248.30 776.34 Q1260.00 776.34 1267.20 785.15" fill="none" stroke="#6f8f83" stroke-width="5.25" stroke-linecap="butt" stroke-linejoin="round" />
<polygon points="1270.80,777.66 1278.90,794.86 1259.55,790.89" fill="#6f8f83" />
<rect x="1295.00" y="762.30" width="2.00" height="44.20" rx="0.00" fill="#444444" stroke="none" stroke-width="0.00" />
<polygon points="1307.10,775.60 1318.10,764.60 1344.70,764.60 1333.70,775.60" fill="#f3f3f3" stroke="#9a9a9a" stroke-width="3.80" stroke-linejoin="round"/>
<polygon points="1333.70,775.60 1344.70,764.60 1344.70,791.20 1333.70,802.20" fill="#d6d6d6" stroke="#9a9a9a" stroke-width="3.80" stroke-linejoin="round"/>
<rect x="1307.10" y="775.60" width="26.60" height="26.60" fill="#ffffff" stroke="#9a9a9a" stroke-width="3.80"/>
<polygon points="1356.30,775.60 1367.30,764.60 1393.90,764.60 1382.90,775.60" fill="#e9e9e9" stroke="#9a9a9a" stroke-width="3.80" stroke-linejoin="round"/>
<polygon points="1382.90,775.60 1393.90,764.60 1393.90,791.20 1382.90,802.20" fill="#cfcfcf" stroke="#9a9a9a" stroke-width="3.80" stroke-linejoin="round"/>
<rect x="1356.30" y="775.60" width="26.60" height="26.60" fill="#f3f3f3" stroke="#9a9a9a" stroke-width="3.80"/>
<polygon points="1404.80,775.60 1415.80,764.60 1442.40,764.60 1431.40,775.60" fill="#e0e0e0" stroke="#9a9a9a" stroke-width="3.80" stroke-linejoin="round"/>
<polygon points="1431.40,775.60 1442.40,764.60 1442.40,791.20 1431.40,802.20" fill="#c6c6c6" stroke="#9a9a9a" stroke-width="3.80" stroke-linejoin="round"/>
<rect x="1404.80" y="775.60" width="26.60" height="26.60" fill="#e5e5e5" stroke="#9a9a9a" stroke-width="3.80"/>
<polygon points="1101.00,436.30 1110.00,436.30 1110.00,399.50 1139.00,469.50 1110.00,539.00 1110.00,503.00 1101.00,503.00" fill="#d0d0d0" />
<polygon points="1512.00,436.30 1541.00,436.30 1541.00,399.50 1575.00,469.50 1541.00,539.00 1541.00,503.00 1512.00,503.00" fill="#cccccc" />
<text x="1800.08" y="134.10" font-size="33.29" textLength="293.21" lengthAdjust="spacingAndGlyphs" fill="#121212" style="font-weight:700;" >Pair-wise NC Head</text>
<rect x="1705.00" y="290.60" width="65.00" height="8.00" rx="0.00" fill="#999999" stroke="none" stroke-width="0.00" />
<rect x="1915.00" y="290.60" width="75.00" height="8.00" rx="0.00" fill="#999999" stroke="none" stroke-width="0.00" />
<rect x="1629.90" y="139.10" width="81.70" height="269.90" rx="12.00" fill="#eef0e3" stroke="none" stroke-width="0.00" filter="url(#sh)"/>
<rect x="1619.90" y="147.00" width="83.70" height="270.00" rx="12.00" fill="#b6c2a0" stroke="none" stroke-width="0.00" filter="url(#sh)"/>
<rect x="1607.90" y="155.00" width="81.80" height="271.20" rx="12.00" fill="#739085" stroke="none" stroke-width="0.00" filter="url(#sh)"/>
<rect x="1625.45" y="170.55" width="45.50" height="45.50" rx="9.00" fill="#ffffff" stroke="#4a5e55" stroke-width="5.50" />
<path d="M1630.86 185.65 Q1644.12 185.65 1652.28 195.85" fill="none" stroke="#4a5e55" stroke-width="5.78" stroke-linecap="butt" stroke-linejoin="round" />
<polygon points="1656.36,187.18 1665.54,207.07 1643.61,202.48" fill="#4a5e55" />
<rect x="1621.10" y="230.00" width="56.60" height="1.60" rx="0.00" fill="#4a5e55" stroke="none" stroke-width="0.00" />
<polygon points="1627.25,259.65 1637.95,248.95 1669.15,248.95 1658.45,259.65" fill="#e5ebe8" stroke="#4a5e55" stroke-width="4.30" stroke-linejoin="round"/>
<polygon points="1658.45,259.65 1669.15,248.95 1669.15,280.15 1658.45,290.85" fill="#aab5b1" stroke="#4a5e55" stroke-width="4.30" stroke-linejoin="round"/>
<rect x="1627.25" y="259.65" width="31.20" height="31.20" fill="#dfe5e2" stroke="#4a5e55" stroke-width="4.30"/>
<polygon points="1627.25,316.65 1637.95,305.95 1669.15,305.95 1658.45,316.65" fill="#d5dfdb" stroke="#4a5e55" stroke-width="4.30" stroke-linejoin="round"/>
<polygon points="1658.45,316.65 1669.15,305.95 1669.15,337.15 1658.45,347.85" fill="#a3afab" stroke="#4a5e55" stroke-width="4.30" stroke-linejoin="round"/>
<rect x="1627.25" y="316.65" width="31.20" height="31.20" fill="#cbd6d2" stroke="#4a5e55" stroke-width="4.30"/>
<polygon points="1627.25,373.25 1637.95,362.55 1669.15,362.55 1658.45,373.25" fill="#b8c7c2" stroke="#4a5e55" stroke-width="4.30" stroke-linejoin="round"/>
<polygon points="1658.45,373.25 1669.15,362.55 1669.15,393.75 1658.45,404.45" fill="#8a9b95" stroke="#4a5e55" stroke-width="4.30" stroke-linejoin="round"/>
<rect x="1627.25" y="373.25" width="31.20" height="31.20" fill="#a3b8b1" stroke="#4a5e55" stroke-width="4.30"/>
<rect x="1792.50" y="172.60" width="147.50" height="208.50" rx="22.00" fill="#eef0e3" stroke="none" stroke-width="0.00" filter="url(#sh)"/>
<rect x="1781.40" y="179.70" width="148.30" height="210.60" rx="22.00" fill="#b6c2a0" stroke="none" stroke-width="0.00" filter="url(#sh)"/>
<rect x="1765.40" y="187.70" width="153.60" height="211.30" rx="22.00" fill="#739085" stroke="none" stroke-width="0.00" filter="url(#sh)"/>
<rect x="1777.40" y="203.70" width="126.80" height="55.00" rx="14.00" fill="#ffffff" stroke="none" stroke-width="0.00" />
<rect x="1793.50" y="212.90" width="38.40" height="37.30" rx="8.00" fill="#ffffff" stroke="#4a5e55" stroke-width="4.20" />
<path d="M1798.22 225.32 Q1809.29 225.32 1816.11 233.62" fill="none" stroke="#4a5e55" stroke-width="4.41" stroke-linecap="butt" stroke-linejoin="round" />
<polygon points="1819.52,226.57 1827.18,242.75 1808.87,239.02" fill="#4a5e55" />
<polygon points="1847.20,221.60 1857.20,211.60 1885.90,211.60 1875.90,221.60" fill="#e5ebe8" stroke="#4a5e55" stroke-width="4.00" stroke-linejoin="round"/>
<polygon points="1875.90,221.60 1885.90,211.60 1885.90,240.30 1875.90,250.30" fill="#aab5b1" stroke="#4a5e55" stroke-width="4.00" stroke-linejoin="round"/>
<rect x="1847.20" y="221.60" width="28.70" height="28.70" fill="#dfe5e2" stroke="#4a5e55" stroke-width="4.00"/>
<rect x="1777.40" y="268.30" width="126.80" height="55.00" rx="14.00" fill="#ffffff" stroke="none" stroke-width="0.00" />
<rect x="1793.50" y="277.50" width="38.40" height="37.30" rx="8.00" fill="#ffffff" stroke="#4a5e55" stroke-width="4.20" />
<path d="M1798.22 289.93 Q1809.29 289.93 1816.11 298.23" fill="none" stroke="#4a5e55" stroke-width="4.41" stroke-linecap="butt" stroke-linejoin="round" />
<polygon points="1819.52,291.17 1827.18,307.36 1808.87,303.62" fill="#4a5e55" />
<polygon points="1847.20,286.20 1857.20,276.20 1885.90,276.20 1875.90,286.20" fill="#d5dfdb" stroke="#4a5e55" stroke-width="4.00" stroke-linejoin="round"/>
<polygon points="1875.90,286.20 1885.90,276.20 1885.90,304.90 1875.90,314.90" fill="#a3afab" stroke="#4a5e55" stroke-width="4.00" stroke-linejoin="round"/>
<rect x="1847.20" y="286.20" width="28.70" height="28.70" fill="#cbd6d2" stroke="#4a5e55" stroke-width="4.00"/>
<rect x="1777.40" y="333.30" width="126.80" height="54.60" rx="14.00" fill="#ffffff" stroke="none" stroke-width="0.00" />
<rect x="1793.50" y="342.50" width="38.40" height="37.30" rx="8.00" fill="#ffffff" stroke="#4a5e55" stroke-width="4.20" />
<path d="M1798.22 354.93 Q1809.29 354.93 1816.11 363.23" fill="none" stroke="#4a5e55" stroke-width="4.41" stroke-linecap="butt" stroke-linejoin="round" />
<polygon points="1819.52,356.17 1827.18,372.36 1808.87,368.62" fill="#4a5e55" />
<polygon points="1847.20,351.20 1857.20,341.20 1885.90,341.20 1875.90,351.20" fill="#b8c7c2" stroke="#4a5e55" stroke-width="4.00" stroke-linejoin="round"/>
<polygon points="1875.90,351.20 1885.90,341.20 1885.90,369.90 1875.90,379.90" fill="#8a9b95" stroke="#4a5e55" stroke-width="4.00" stroke-linejoin="round"/>
<rect x="1847.20" y="351.20" width="28.70" height="28.70" fill="#a3b8b1" stroke="#4a5e55" stroke-width="4.00"/>
<text x="1710.54" y="440.90" font-size="35.47" textLength="283.89" lengthAdjust="spacingAndGlyphs" fill="#4a4a4a" style="font-weight:700;" >Pair-wise Concat</text>
<rect x="1983.20" y="221.30" width="88.90" height="144.90" rx="22.00" fill="#ecede1" stroke="#e4e5d8" stroke-width="0.80" filter="url(#sh)"/>
<text x="1996.82" y="303.90" font-size="29.80" textLength="62.60" lengthAdjust="spacingAndGlyphs" fill="#4a4a4a" style="font-weight:700;" >MLP</text>
<polygon points="2072.00,290.20 2131.70,290.20 2131.70,282.00 2155.50,294.30 2131.70,306.10 2131.70,298.40 2072.00,298.40" fill="#909090" />
<rect x="2177.30" y="208.70" width="105.80" height="131.30" rx="5.00" fill="#ffffff" stroke="#eeeeee" stroke-width="1.00" filter="url(#sh)"/>
<rect x="2169.10" y="217.00" width="105.30" height="130.60" rx="5.00" fill="#ffffff" stroke="#eeeeee" stroke-width="1.00" filter="url(#sh)"/>
<rect x="2159.60" y="226.00" width="105.20" height="130.40" rx="5.00" fill="#ffffff" stroke="#eeeeee" stroke-width="1.00" filter="url(#sh)"/>
<rect x="2169.10" y="257.30" width="33.90" height="20.70" rx="6.21" fill="#cfcfcf"/>
<rect x="2190.12" y="254.80" width="1.40" height="25.70" rx="0.60" fill="#cfcfcf" stroke="none" stroke-width="0.00" />
<polygon points="2192.83,259.78 2192.83,275.52 2187.74,273.45 2187.74,261.85" fill="#a9a9a9" />
<polygon points="2175.88,261.44 2175.88,273.86 2172.49,275.52 2172.49,259.78" fill="#a9a9a9" />
<polygon points="2177.24,261.85 2186.73,261.85 2186.73,264.34 2177.24,264.34" fill="#a9a9a9" />
<polygon points="2177.24,273.45 2186.73,273.45 2186.73,270.96 2177.24,270.96" fill="#a9a9a9" />
<rect x="2223.40" y="237.00" width="33.80" height="20.60" rx="6.18" fill="#cfcfcf"/>
<rect x="2244.36" y="234.50" width="1.40" height="25.60" rx="0.60" fill="#cfcfcf" stroke="none" stroke-width="0.00" />
<polygon points="2247.06,239.47 2247.06,255.13 2241.99,253.07 2241.99,241.53" fill="#a9a9a9" />
<polygon points="2230.16,241.12 2230.16,253.48 2226.78,255.13 2226.78,239.47" fill="#a9a9a9" />
<polygon points="2231.51,241.53 2240.98,241.53 2240.98,244.00 2231.51,244.00" fill="#a9a9a9" />
<polygon points="2231.51,253.07 2240.98,253.07 2240.98,250.60 2231.51,250.60" fill="#a9a9a9" />
<rect x="2205.00" y="311.90" width="20.70" height="34.60" rx="6.21" fill="#4b5a4c"/>
<rect x="2202.00" y="324.36" width="26.70" height="1.60" rx="0.80" fill="#4b5a4c" stroke="none" stroke-width="0.00" />
<polygon points="2207.48,322.28 2223.22,322.28 2221.15,327.82 2209.55,327.82" fill="#1e2a20" />
<polygon points="2209.14,339.58 2221.56,339.58 2223.22,343.04 2207.48,343.04" fill="#1e2a20" />
<polygon points="2206.66,328.51 2209.14,329.89 2209.14,338.20 2206.66,339.58" fill="#1e2a20" />
<polygon points="2224.04,328.51 2221.56,329.89 2221.56,338.20 2224.04,339.58" fill="#1e2a20" />
<path d="M2182.8 268.3 L2207.4 310.3" stroke="#72a046" stroke-width="6" stroke-linecap="round"/>
<circle cx="2182.8" cy="268.8" r="5.8" fill="#72a046"/><circle cx="2207.3" cy="310.3" r="5.8" fill="#72a046"/>
<path d="M2237.3 247.3 L2221.9 309.6" stroke="#e8321e" stroke-width="6" stroke-linecap="round"/>
<circle cx="2237.3" cy="247.3" r="5.8" fill="#e8321e"/><circle cx="2221.9" cy="309.6" r="5.8" fill="#e8321e"/>
<text x="2164.33" y="389.20" font-size="27.91" textLength="89.52" lengthAdjust="spacingAndGlyphs" fill="#4a4a4a" style="font-weight:700;" >PwNC</text>
<text x="2167.42" y="420.00" font-size="27.91" textLength="84.72" lengthAdjust="spacingAndGlyphs" fill="#4a4a4a" style="font-weight:700;" >Score</text>
<text x="1782.03" y="514.00" font-size="31.69" textLength="328.84" lengthAdjust="spacingAndGlyphs" fill="#121212" style="font-weight:700;" >Time-wise DAC Head</text>
<rect x="1699.00" y="592.70" width="41.00" height="7.00" rx="0.00" fill="#909090" stroke="none" stroke-width="0.00" />
<rect x="1792.00" y="592.70" width="42.00" height="7.00" rx="0.00" fill="#909090" stroke="none" stroke-width="0.00" />
<rect x="1908.00" y="592.70" width="38.00" height="7.00" rx="0.00" fill="#909090" stroke="none" stroke-width="0.00" />
<path d="M2000 596 L2151.7 596 L2151.7 750.2 L2094 750.2" fill="none" stroke="#909090" stroke-width="7.5"/>
<polygon points="2150.00,668.80 2165.90,668.80 2165.90,661.30 2187.50,672.60 2165.90,683.90 2165.90,676.40 2150.00,676.40" fill="#909090" />
<rect x="1727.00" y="747.00" width="54.00" height="6.80" rx="0.00" fill="#909090" stroke="none" stroke-width="0.00" />
<rect x="1957.00" y="746.50" width="43.00" height="7.50" rx="0.00" fill="#909090" stroke="none" stroke-width="0.00" />
<g filter="url(#sh)">
<rect x="1623.00" y="558.00" width="76.10" height="76.10" rx="0.00" fill="#27a185" stroke="none" stroke-width="0.00" />
</g>
<clipPath id="bfc"><rect x="1623.0" y="558.0" width="76.1" height="76.1"/></clipPath>
<filter id="bfb" x="-5%" y="-5%" width="110%" height="110%"><feGaussianBlur stdDeviation="0.9"/></filter>
<g clip-path="url(#bfc)"><g filter="url(#bfb)">
<path fill="#28ae80" d="M1623.0 558.0h3.13v3.13h-3.13zM1623.0 560.9h3.13v3.13h-3.13zM1623.0 566.8h3.13v3.13h-3.13zM1623.0 569.7h3.13v3.13h-3.13zM1623.0 596.0h3.13v3.13h-3.13zM1623.0 604.8h3.13v3.13h-3.13zM1623.0 610.7h3.13v3.13h-3.13zM1623.0 625.3h3.13v3.13h-3.13zM1623.0 628.2h3.13v3.13h-3.13zM1623.0 631.2h3.13v3.13h-3.13zM1625.9 563.9h3.13v3.13h-3.13zM1625.9 607.8h3.13v3.13h-3.13zM1625.9 613.6h3.13v3.13h-3.13zM1625.9 616.5h3.13v3.13h-3.13zM1625.9 625.3h3.13v3.13h-3.13zM1625.9 631.2h3.13v3.13h-3.13zM1628.9 563.9h3.13v3.13h-3.13zM1628.9 599.0h3.13v3.13h-3.13zM1628.9 604.8h3.13v3.13h-3.13zM1628.9 607.8h3.13v3.13h-3.13zM1628.9 613.6h3.13v3.13h-3.13zM1628.9 616.5h3.13v3.13h-3.13zM1628.9 625.3h3.13v3.13h-3.13zM1631.8 558.0h3.13v3.13h-3.13zM1631.8 563.9h3.13v3.13h-3.13zM1631.8 566.8h3.13v3.13h-3.13zM1631.8 596.0h3.13v3.13h-3.13zM1631.8 599.0h3.13v3.13h-3.13zM1631.8 613.6h3.13v3.13h-3.13zM1631.8 625.3h3.13v3.13h-3.13zM1631.8 628.2h3.13v3.13h-3.13zM1634.7 563.9h3.13v3.13h-3.13zM1634.7 566.8h3.13v3.13h-3.13zM1634.7 569.7h3.13v3.13h-3.13zM1634.7 593.1h3.13v3.13h-3.13zM1634.7 596.0h3.13v3.13h-3.13zM1634.7 613.6h3.13v3.13h-3.13zM1634.7 625.3h3.13v3.13h-3.13zM1634.7 631.2h3.13v3.13h-3.13zM1637.6 558.0h3.13v3.13h-3.13zM1637.6 560.9h3.13v3.13h-3.13zM1637.6 563.9h3.13v3.13h-3.13zM1637.6 566.8h3.13v3.13h-3.13zM1637.6 596.0h3.13v3.13h-3.13zM1637.6 616.5h3.13v3.13h-3.13zM1637.6 631.2h3.13v3.13h-3.13zM1640.6 560.9h3.13v3.13h-3.13zM1640.6 572.6h3.13v3.13h-3.13zM1640.6 584.3h3.13v3.13h-3.13zM1640.6 590.2h3.13v3.13h-3.13zM1640.6 599.0h3.13v3.13h-3.13zM1640.6 601.9h3.13v3.13h-3.13zM1640.6 607.8h3.13v3.13h-3.13zM1640.6 610.7h3.13v3.13h-3.13zM1640.6 613.6h3.13v3.13h-3.13zM1640.6 631.2h3.13v3.13h-3.13zM1643.5 558.0h3.13v3.13h-3.13zM1643.5 578.5h3.13v3.13h-3.13zM1643.5 584.3h3.13v3.13h-3.13zM1643.5 587.3h3.13v3.13h-3.13zM1643.5 590.2h3.13v3.13h-3.13zM1643.5 596.0h3.13v3.13h-3.13zM1643.5 599.0h3.13v3.13h-3.13zM1643.5 604.8h3.13v3.13h-3.13zM1643.5 607.8h3.13v3.13h-3.13zM1643.5 616.5h3.13v3.13h-3.13zM1643.5 619.5h3.13v3.13h-3.13zM1643.5 622.4h3.13v3.13h-3.13zM1643.5 625.3h3.13v3.13h-3.13zM1643.5 628.2h3.13v3.13h-3.13zM1646.4 558.0h3.13v3.13h-3.13zM1646.4 569.7h3.13v3.13h-3.13zM1646.4 581.4h3.13v3.13h-3.13zM1646.4 584.3h3.13v3.13h-3.13zM1646.4 593.1h3.13v3.13h-3.13zM1646.4 596.0h3.13v3.13h-3.13zM1646.4 599.0h3.13v3.13h-3.13zM1646.4 616.5h3.13v3.13h-3.13zM1646.4 619.5h3.13v3.13h-3.13zM1646.4 622.4h3.13v3.13h-3.13zM1646.4 628.2h3.13v3.13h-3.13zM1649.3 566.8h3.13v3.13h-3.13zM1649.3 569.7h3.13v3.13h-3.13zM1649.3 575.6h3.13v3.13h-3.13zM1649.3 578.5h3.13v3.13h-3.13zM1649.3 581.4h3.13v3.13h-3.13zM1649.3 601.9h3.13v3.13h-3.13zM1649.3 604.8h3.13v3.13h-3.13zM1649.3 631.2h3.13v3.13h-3.13zM1652.3 558.0h3.13v3.13h-3.13zM1652.3 560.9h3.13v3.13h-3.13zM1652.3 569.7h3.13v3.13h-3.13zM1652.3 604.8h3.13v3.13h-3.13zM1652.3 628.2h3.13v3.13h-3.13zM1655.2 575.6h3.13v3.13h-3.13zM1655.2 581.4h3.13v3.13h-3.13zM1655.2 601.9h3.13v3.13h-3.13zM1655.2 604.8h3.13v3.13h-3.13zM1655.2 610.7h3.13v3.13h-3.13zM1655.2 613.6h3.13v3.13h-3.13zM1655.2 619.5h3.13v3.13h-3.13zM1655.2 631.2h3.13v3.13h-3.13zM1658.1 575.6h3.13v3.13h-3.13zM1658.1 587.3h3.13v3.13h-3.13zM1658.1 596.0h3.13v3.13h-3.13zM1658.1 601.9h3.13v3.13h-3.13zM1658.1 604.8h3.13v3.13h-3.13zM1658.1 607.8h3.13v3.13h-3.13zM1658.1 619.5h3.13v3.13h-3.13zM1658.1 631.2h3.13v3.13h-3.13zM1661.0 558.0h3.13v3.13h-3.13zM1661.0 566.8h3.13v3.13h-3.13zM1661.0 572.6h3.13v3.13h-3.13zM1661.0 587.3h3.13v3.13h-3.13zM1661.0 601.9h3.13v3.13h-3.13zM1661.0 607.8h3.13v3.13h-3.13zM1661.0 619.5h3.13v3.13h-3.13zM1664.0 575.6h3.13v3.13h-3.13zM1664.0 578.5h3.13v3.13h-3.13zM1664.0 584.3h3.13v3.13h-3.13zM1664.0 590.2h3.13v3.13h-3.13zM1664.0 593.1h3.13v3.13h-3.13zM1664.0 599.0h3.13v3.13h-3.13zM1664.0 610.7h3.13v3.13h-3.13zM1664.0 616.5h3.13v3.13h-3.13zM1664.0 625.3h3.13v3.13h-3.13zM1666.9 558.0h3.13v3.13h-3.13zM1666.9 560.9h3.13v3.13h-3.13zM1666.9 566.8h3.13v3.13h-3.13zM1666.9 572.6h3.13v3.13h-3.13zM1666.9 599.0h3.13v3.13h-3.13zM1669.8 558.0h3.13v3.13h-3.13zM1669.8 566.8h3.13v3.13h-3.13zM1669.8 604.8h3.13v3.13h-3.13zM1669.8 607.8h3.13v3.13h-3.13zM1672.8 563.9h3.13v3.13h-3.13zM1672.8 572.6h3.13v3.13h-3.13zM1672.8 593.1h3.13v3.13h-3.13zM1672.8 596.0h3.13v3.13h-3.13zM1672.8 599.0h3.13v3.13h-3.13zM1672.8 601.9h3.13v3.13h-3.13zM1672.8 604.8h3.13v3.13h-3.13zM1672.8 607.8h3.13v3.13h-3.13zM1672.8 613.6h3.13v3.13h-3.13zM1672.8 616.5h3.13v3.13h-3.13zM1672.8 619.5h3.13v3.13h-3.13zM1675.7 560.9h3.13v3.13h-3.13zM1675.7 572.6h3.13v3.13h-3.13zM1675.7 575.6h3.13v3.13h-3.13zM1675.7 599.0h3.13v3.13h-3.13zM1675.7 610.7h3.13v3.13h-3.13zM1675.7 622.4h3.13v3.13h-3.13zM1675.7 625.3h3.13v3.13h-3.13zM1675.7 628.2h3.13v3.13h-3.13zM1675.7 631.2h3.13v3.13h-3.13zM1678.6 558.0h3.13v3.13h-3.13zM1678.6 560.9h3.13v3.13h-3.13zM1678.6 575.6h3.13v3.13h-3.13zM1678.6 578.5h3.13v3.13h-3.13zM1678.6 590.2h3.13v3.13h-3.13zM1678.6 593.1h3.13v3.13h-3.13zM1678.6 596.0h3.13v3.13h-3.13zM1678.6 599.0h3.13v3.13h-3.13zM1678.6 619.5h3.13v3.13h-3.13zM1678.6 631.2h3.13v3.13h-3.13zM1681.5 578.5h3.13v3.13h-3.13zM1681.5 584.3h3.13v3.13h-3.13zM1681.5 593.1h3.13v3.13h-3.13zM1681.5 599.0h3.13v3.13h-3.13zM1681.5 607.8h3.13v3.13h-3.13zM1681.5 610.7h3.13v3.13h-3.13zM1681.5 625.3h3.13v3.13h-3.13zM1684.5 560.9h3.13v3.13h-3.13zM1684.5 566.8h3.13v3.13h-3.13zM1684.5 569.7h3.13v3.13h-3.13zM1684.5 578.5h3.13v3.13h-3.13zM1684.5 593.1h3.13v3.13h-3.13zM1684.5 616.5h3.13v3.13h-3.13zM1684.5 622.4h3.13v3.13h-3.13zM1684.5 625.3h3.13v3.13h-3.13zM1684.5 628.2h3.13v3.13h-3.13zM1687.4 558.0h3.13v3.13h-3.13zM1687.4 563.9h3.13v3.13h-3.13zM1687.4 566.8h3.13v3.13h-3.13zM1687.4 569.7h3.13v3.13h-3.13zM1687.4 578.5h3.13v3.13h-3.13zM1687.4 581.4h3.13v3.13h-3.13zM1687.4 587.3h3.13v3.13h-3.13zM1687.4 610.7h3.13v3.13h-3.13zM1687.4 613.6h3.13v3.13h-3.13zM1687.4 616.5h3.13v3.13h-3.13zM1687.4 625.3h3.13v3.13h-3.13zM1687.4 631.2h3.13v3.13h-3.13zM1690.3 558.0h3.13v3.13h-3.13zM1690.3 575.6h3.13v3.13h-3.13zM1690.3 610.7h3.13v3.13h-3.13zM1690.3 628.2h3.13v3.13h-3.13zM1690.3 631.2h3.13v3.13h-3.13zM1693.2 569.7h3.13v3.13h-3.13zM1693.2 572.6h3.13v3.13h-3.13zM1693.2 619.5h3.13v3.13h-3.13zM1696.2 569.7h3.13v3.13h-3.13zM1696.2 572.6h3.13v3.13h-3.13zM1696.2 578.5h3.13v3.13h-3.13zM1696.2 581.4h3.13v3.13h-3.13zM1696.2 584.3h3.13v3.13h-3.13zM1696.2 613.6h3.13v3.13h-3.13zM1696.2 622.4h3.13v3.13h-3.13zM1696.2 625.3h3.13v3.13h-3.13zM1696.2 631.2h3.13v3.13h-3.13z"/>
<path fill="#3fbc73" d="M1623.0 563.9h3.13v3.13h-3.13zM1623.0 607.8h3.13v3.13h-3.13zM1623.0 616.5h3.13v3.13h-3.13zM1623.0 622.4h3.13v3.13h-3.13zM1625.9 558.0h3.13v3.13h-3.13zM1625.9 566.8h3.13v3.13h-3.13zM1625.9 569.7h3.13v3.13h-3.13zM1625.9 604.8h3.13v3.13h-3.13zM1625.9 619.5h3.13v3.13h-3.13zM1625.9 622.4h3.13v3.13h-3.13zM1628.9 558.0h3.13v3.13h-3.13zM1628.9 566.8h3.13v3.13h-3.13zM1628.9 601.9h3.13v3.13h-3.13zM1628.9 619.5h3.13v3.13h-3.13zM1628.9 622.4h3.13v3.13h-3.13zM1628.9 628.2h3.13v3.13h-3.13zM1631.8 560.9h3.13v3.13h-3.13zM1631.8 601.9h3.13v3.13h-3.13zM1631.8 616.5h3.13v3.13h-3.13zM1631.8 631.2h3.13v3.13h-3.13zM1634.7 558.0h3.13v3.13h-3.13zM1634.7 560.9h3.13v3.13h-3.13zM1634.7 599.0h3.13v3.13h-3.13zM1634.7 601.9h3.13v3.13h-3.13zM1634.7 628.2h3.13v3.13h-3.13zM1637.6 628.2h3.13v3.13h-3.13zM1640.6 558.0h3.13v3.13h-3.13zM1640.6 563.9h3.13v3.13h-3.13zM1640.6 566.8h3.13v3.13h-3.13zM1640.6 569.7h3.13v3.13h-3.13zM1640.6 604.8h3.13v3.13h-3.13zM1643.5 560.9h3.13v3.13h-3.13zM1643.5 563.9h3.13v3.13h-3.13zM1643.5 566.8h3.13v3.13h-3.13zM1643.5 575.6h3.13v3.13h-3.13zM1643.5 593.1h3.13v3.13h-3.13zM1643.5 631.2h3.13v3.13h-3.13zM1646.4 560.9h3.13v3.13h-3.13zM1646.4 563.9h3.13v3.13h-3.13zM1646.4 566.8h3.13v3.13h-3.13zM1646.4 572.6h3.13v3.13h-3.13zM1646.4 575.6h3.13v3.13h-3.13zM1646.4 625.3h3.13v3.13h-3.13zM1646.4 631.2h3.13v3.13h-3.13zM1649.3 558.0h3.13v3.13h-3.13zM1649.3 572.6h3.13v3.13h-3.13zM1649.3 587.3h3.13v3.13h-3.13zM1649.3 593.1h3.13v3.13h-3.13zM1649.3 596.0h3.13v3.13h-3.13zM1649.3 625.3h3.13v3.13h-3.13zM1652.3 566.8h3.13v3.13h-3.13zM1652.3 572.6h3.13v3.13h-3.13zM1652.3 578.5h3.13v3.13h-3.13zM1652.3 581.4h3.13v3.13h-3.13zM1652.3 584.3h3.13v3.13h-3.13zM1652.3 593.1h3.13v3.13h-3.13zM1652.3 596.0h3.13v3.13h-3.13zM1652.3 599.0h3.13v3.13h-3.13zM1652.3 625.3h3.13v3.13h-3.13zM1652.3 631.2h3.13v3.13h-3.13zM1655.2 558.0h3.13v3.13h-3.13zM1655.2 569.7h3.13v3.13h-3.13zM1655.2 578.5h3.13v3.13h-3.13zM1655.2 584.3h3.13v3.13h-3.13zM1655.2 587.3h3.13v3.13h-3.13zM1655.2 596.0h3.13v3.13h-3.13zM1655.2 628.2h3.13v3.13h-3.13zM1658.1 581.4h3.13v3.13h-3.13zM1658.1 584.3h3.13v3.13h-3.13zM1658.1 590.2h3.13v3.13h-3.13zM1658.1 593.1h3.13v3.13h-3.13zM1661.0 581.4h3.13v3.13h-3.13zM1661.0 584.3h3.13v3.13h-3.13zM1661.0 593.1h3.13v3.13h-3.13zM1661.0 596.0h3.13v3.13h-3.13zM1664.0 581.4h3.13v3.13h-3.13zM1664.0 587.3h3.13v3.13h-3.13zM1666.9 596.0h3.13v3.13h-3.13zM1666.9 610.7h3.13v3.13h-3.13zM1666.9 613.6h3.13v3.13h-3.13zM1666.9 616.5h3.13v3.13h-3.13zM1666.9 619.5h3.13v3.13h-3.13zM1666.9 622.4h3.13v3.13h-3.13zM1666.9 628.2h3.13v3.13h-3.13zM1669.8 599.0h3.13v3.13h-3.13zM1669.8 610.7h3.13v3.13h-3.13zM1669.8 613.6h3.13v3.13h-3.13zM1672.8 578.5h3.13v3.13h-3.13zM1672.8 584.3h3.13v3.13h-3.13zM1675.7 581.4h3.13v3.13h-3.13zM1675.7 584.3h3.13v3.13h-3.13zM1675.7 587.3h3.13v3.13h-3.13zM1675.7 590.2h3.13v3.13h-3.13zM1675.7 593.1h3.13v3.13h-3.13zM1675.7 616.5h3.13v3.13h-3.13zM1675.7 619.5h3.13v3.13h-3.13zM1678.6 581.4h3.13v3.13h-3.13zM1678.6 616.5h3.13v3.13h-3.13zM1678.6 625.3h3.13v3.13h-3.13zM1681.5 558.0h3.13v3.13h-3.13zM1681.5 560.9h3.13v3.13h-3.13zM1681.5 572.6h3.13v3.13h-3.13zM1681.5 587.3h3.13v3.13h-3.13zM1681.5 619.5h3.13v3.13h-3.13zM1681.5 622.4h3.13v3.13h-3.13zM1684.5 575.6h3.13v3.13h-3.13zM1684.5 581.4h3.13v3.13h-3.13zM1684.5 613.6h3.13v3.13h-3.13zM1687.4 560.9h3.13v3.13h-3.13zM1687.4 572.6h3.13v3.13h-3.13zM1687.4 575.6h3.13v3.13h-3.13zM1687.4 628.2h3.13v3.13h-3.13zM1690.3 572.6h3.13v3.13h-3.13zM1690.3 581.4h3.13v3.13h-3.13zM1690.3 584.3h3.13v3.13h-3.13zM1690.3 619.5h3.13v3.13h-3.13zM1690.3 622.4h3.13v3.13h-3.13zM1690.3 625.3h3.13v3.13h-3.13zM1693.2 563.9h3.13v3.13h-3.13zM1693.2 575.6h3.13v3.13h-3.13zM1693.2 610.7h3.13v3.13h-3.13zM1693.2 613.6h3.13v3.13h-3.13zM1693.2 616.5h3.13v3.13h-3.13zM1693.2 622.4h3.13v3.13h-3.13zM1693.2 628.2h3.13v3.13h-3.13zM1693.2 631.2h3.13v3.13h-3.13zM1696.2 558.0h3.13v3.13h-3.13zM1696.2 575.6h3.13v3.13h-3.13zM1696.2 616.5h3.13v3.13h-3.13zM1696.2 628.2h3.13v3.13h-3.13z"/>
<path fill="#2c728e" d="M1623.0 572.6h3.13v3.13h-3.13zM1623.0 587.3h3.13v3.13h-3.13zM1623.0 590.2h3.13v3.13h-3.13zM1625.9 572.6h3.13v3.13h-3.13zM1625.9 575.6h3.13v3.13h-3.13zM1628.9 575.6h3.13v3.13h-3.13zM1628.9 581.4h3.13v3.13h-3.13zM1631.8 584.3h3.13v3.13h-3.13zM1631.8 587.3h3.13v3.13h-3.13zM1634.7 572.6h3.13v3.13h-3.13zM1634.7 578.5h3.13v3.13h-3.13zM1637.6 575.6h3.13v3.13h-3.13zM1687.4 596.0h3.13v3.13h-3.13zM1690.3 607.8h3.13v3.13h-3.13zM1693.2 596.0h3.13v3.13h-3.13zM1693.2 599.0h3.13v3.13h-3.13zM1696.2 593.1h3.13v3.13h-3.13zM1696.2 596.0h3.13v3.13h-3.13zM1696.2 601.9h3.13v3.13h-3.13zM1696.2 604.8h3.13v3.13h-3.13zM1696.2 607.8h3.13v3.13h-3.13z"/>
<path fill="#3b528b" d="M1623.0 575.6h3.13v3.13h-3.13zM1623.0 578.5h3.13v3.13h-3.13zM1623.0 581.4h3.13v3.13h-3.13zM1623.0 584.3h3.13v3.13h-3.13zM1625.9 578.5h3.13v3.13h-3.13zM1625.9 581.4h3.13v3.13h-3.13zM1625.9 584.3h3.13v3.13h-3.13zM1628.9 578.5h3.13v3.13h-3.13zM1628.9 584.3h3.13v3.13h-3.13zM1631.8 575.6h3.13v3.13h-3.13zM1631.8 578.5h3.13v3.13h-3.13zM1631.8 581.4h3.13v3.13h-3.13zM1634.7 581.4h3.13v3.13h-3.13zM1634.7 584.3h3.13v3.13h-3.13zM1637.6 578.5h3.13v3.13h-3.13zM1637.6 581.4h3.13v3.13h-3.13zM1637.6 584.3h3.13v3.13h-3.13zM1687.4 599.0h3.13v3.13h-3.13zM1687.4 601.9h3.13v3.13h-3.13zM1687.4 607.8h3.13v3.13h-3.13zM1690.3 596.0h3.13v3.13h-3.13zM1690.3 599.0h3.13v3.13h-3.13zM1690.3 601.9h3.13v3.13h-3.13zM1690.3 604.8h3.13v3.13h-3.13zM1693.2 601.9h3.13v3.13h-3.13zM1693.2 604.8h3.13v3.13h-3.13zM1696.2 599.0h3.13v3.13h-3.13z"/>
<path fill="#21918c" d="M1623.0 593.1h3.13v3.13h-3.13zM1623.0 619.5h3.13v3.13h-3.13zM1625.9 587.3h3.13v3.13h-3.13zM1625.9 590.2h3.13v3.13h-3.13zM1625.9 593.1h3.13v3.13h-3.13zM1628.9 572.6h3.13v3.13h-3.13zM1628.9 610.7h3.13v3.13h-3.13zM1631.8 572.6h3.13v3.13h-3.13zM1631.8 590.2h3.13v3.13h-3.13zM1634.7 575.6h3.13v3.13h-3.13zM1634.7 590.2h3.13v3.13h-3.13zM1634.7 610.7h3.13v3.13h-3.13zM1634.7 616.5h3.13v3.13h-3.13zM1637.6 572.6h3.13v3.13h-3.13zM1637.6 587.3h3.13v3.13h-3.13zM1637.6 590.2h3.13v3.13h-3.13zM1637.6 607.8h3.13v3.13h-3.13zM1640.6 575.6h3.13v3.13h-3.13zM1640.6 578.5h3.13v3.13h-3.13zM1640.6 581.4h3.13v3.13h-3.13zM1640.6 593.1h3.13v3.13h-3.13zM1640.6 596.0h3.13v3.13h-3.13zM1640.6 616.5h3.13v3.13h-3.13zM1643.5 610.7h3.13v3.13h-3.13zM1646.4 610.7h3.13v3.13h-3.13zM1646.4 613.6h3.13v3.13h-3.13zM1649.3 613.6h3.13v3.13h-3.13zM1649.3 619.5h3.13v3.13h-3.13zM1649.3 622.4h3.13v3.13h-3.13zM1655.2 607.8h3.13v3.13h-3.13zM1655.2 616.5h3.13v3.13h-3.13zM1658.1 569.7h3.13v3.13h-3.13zM1658.1 599.0h3.13v3.13h-3.13zM1658.1 610.7h3.13v3.13h-3.13zM1658.1 613.6h3.13v3.13h-3.13zM1658.1 616.5h3.13v3.13h-3.13zM1658.1 625.3h3.13v3.13h-3.13zM1661.0 563.9h3.13v3.13h-3.13zM1661.0 575.6h3.13v3.13h-3.13zM1661.0 599.0h3.13v3.13h-3.13zM1661.0 604.8h3.13v3.13h-3.13zM1661.0 613.6h3.13v3.13h-3.13zM1661.0 625.3h3.13v3.13h-3.13zM1661.0 631.2h3.13v3.13h-3.13zM1664.0 558.0h3.13v3.13h-3.13zM1664.0 560.9h3.13v3.13h-3.13zM1664.0 563.9h3.13v3.13h-3.13zM1664.0 566.8h3.13v3.13h-3.13zM1664.0 569.7h3.13v3.13h-3.13zM1664.0 613.6h3.13v3.13h-3.13zM1666.9 563.9h3.13v3.13h-3.13zM1669.8 563.9h3.13v3.13h-3.13zM1669.8 569.7h3.13v3.13h-3.13zM1669.8 575.6h3.13v3.13h-3.13zM1672.8 566.8h3.13v3.13h-3.13zM1675.7 558.0h3.13v3.13h-3.13zM1675.7 604.8h3.13v3.13h-3.13zM1675.7 607.8h3.13v3.13h-3.13zM1678.6 566.8h3.13v3.13h-3.13zM1678.6 569.7h3.13v3.13h-3.13zM1678.6 601.9h3.13v3.13h-3.13zM1681.5 566.8h3.13v3.13h-3.13zM1681.5 569.7h3.13v3.13h-3.13zM1681.5 604.8h3.13v3.13h-3.13zM1684.5 563.9h3.13v3.13h-3.13zM1684.5 572.6h3.13v3.13h-3.13zM1684.5 599.0h3.13v3.13h-3.13zM1684.5 601.9h3.13v3.13h-3.13zM1684.5 604.8h3.13v3.13h-3.13zM1684.5 607.8h3.13v3.13h-3.13zM1687.4 604.8h3.13v3.13h-3.13zM1690.3 566.8h3.13v3.13h-3.13zM1690.3 590.2h3.13v3.13h-3.13zM1690.3 593.1h3.13v3.13h-3.13zM1693.2 566.8h3.13v3.13h-3.13zM1693.2 590.2h3.13v3.13h-3.13zM1693.2 607.8h3.13v3.13h-3.13zM1696.2 590.2h3.13v3.13h-3.13z"/>
<path fill="#1fa088" d="M1623.0 599.0h3.13v3.13h-3.13zM1623.0 601.9h3.13v3.13h-3.13zM1623.0 613.6h3.13v3.13h-3.13zM1625.9 596.0h3.13v3.13h-3.13zM1625.9 599.0h3.13v3.13h-3.13zM1625.9 601.9h3.13v3.13h-3.13zM1625.9 610.7h3.13v3.13h-3.13zM1628.9 569.7h3.13v3.13h-3.13zM1628.9 587.3h3.13v3.13h-3.13zM1628.9 590.2h3.13v3.13h-3.13zM1628.9 593.1h3.13v3.13h-3.13zM1628.9 596.0h3.13v3.13h-3.13zM1631.8 569.7h3.13v3.13h-3.13zM1631.8 593.1h3.13v3.13h-3.13zM1631.8 604.8h3.13v3.13h-3.13zM1631.8 607.8h3.13v3.13h-3.13zM1631.8 610.7h3.13v3.13h-3.13zM1631.8 619.5h3.13v3.13h-3.13zM1631.8 622.4h3.13v3.13h-3.13zM1634.7 587.3h3.13v3.13h-3.13zM1634.7 604.8h3.13v3.13h-3.13zM1634.7 607.8h3.13v3.13h-3.13zM1634.7 619.5h3.13v3.13h-3.13zM1634.7 622.4h3.13v3.13h-3.13zM1637.6 569.7h3.13v3.13h-3.13zM1637.6 593.1h3.13v3.13h-3.13zM1637.6 599.0h3.13v3.13h-3.13zM1637.6 601.9h3.13v3.13h-3.13zM1637.6 604.8h3.13v3.13h-3.13zM1637.6 610.7h3.13v3.13h-3.13zM1637.6 613.6h3.13v3.13h-3.13zM1637.6 619.5h3.13v3.13h-3.13zM1637.6 622.4h3.13v3.13h-3.13zM1640.6 587.3h3.13v3.13h-3.13zM1640.6 619.5h3.13v3.13h-3.13zM1640.6 622.4h3.13v3.13h-3.13zM1640.6 625.3h3.13v3.13h-3.13zM1640.6 628.2h3.13v3.13h-3.13zM1643.5 581.4h3.13v3.13h-3.13zM1643.5 601.9h3.13v3.13h-3.13zM1643.5 613.6h3.13v3.13h-3.13zM1646.4 578.5h3.13v3.13h-3.13zM1646.4 601.9h3.13v3.13h-3.13zM1646.4 604.8h3.13v3.13h-3.13zM1646.4 607.8h3.13v3.13h-3.13zM1649.3 560.9h3.13v3.13h-3.13zM1649.3 563.9h3.13v3.13h-3.13zM1649.3 599.0h3.13v3.13h-3.13zM1649.3 607.8h3.13v3.13h-3.13zM1649.3 610.7h3.13v3.13h-3.13zM1649.3 616.5h3.13v3.13h-3.13zM1649.3 628.2h3.13v3.13h-3.13zM1652.3 563.9h3.13v3.13h-3.13zM1652.3 575.6h3.13v3.13h-3.13zM1652.3 601.9h3.13v3.13h-3.13zM1652.3 607.8h3.13v3.13h-3.13zM1652.3 610.7h3.13v3.13h-3.13zM1652.3 613.6h3.13v3.13h-3.13zM1652.3 616.5h3.13v3.13h-3.13zM1652.3 619.5h3.13v3.13h-3.13zM1652.3 622.4h3.13v3.13h-3.13zM1655.2 560.9h3.13v3.13h-3.13zM1655.2 563.9h3.13v3.13h-3.13zM1655.2 572.6h3.13v3.13h-3.13zM1655.2 599.0h3.13v3.13h-3.13zM1655.2 622.4h3.13v3.13h-3.13zM1655.2 625.3h3.13v3.13h-3.13zM1658.1 558.0h3.13v3.13h-3.13zM1658.1 560.9h3.13v3.13h-3.13zM1658.1 563.9h3.13v3.13h-3.13zM1658.1 566.8h3.13v3.13h-3.13zM1658.1 572.6h3.13v3.13h-3.13zM1658.1 578.5h3.13v3.13h-3.13zM1658.1 622.4h3.13v3.13h-3.13zM1658.1 628.2h3.13v3.13h-3.13zM1661.0 560.9h3.13v3.13h-3.13zM1661.0 569.7h3.13v3.13h-3.13zM1661.0 578.5h3.13v3.13h-3.13zM1661.0 610.7h3.13v3.13h-3.13zM1661.0 616.5h3.13v3.13h-3.13zM1661.0 622.4h3.13v3.13h-3.13zM1661.0 628.2h3.13v3.13h-3.13zM1664.0 572.6h3.13v3.13h-3.13zM1664.0 596.0h3.13v3.13h-3.13zM1664.0 601.9h3.13v3.13h-3.13zM1664.0 604.8h3.13v3.13h-3.13zM1664.0 607.8h3.13v3.13h-3.13zM1664.0 619.5h3.13v3.13h-3.13zM1664.0 622.4h3.13v3.13h-3.13zM1664.0 628.2h3.13v3.13h-3.13zM1664.0 631.2h3.13v3.13h-3.13zM1666.9 569.7h3.13v3.13h-3.13zM1666.9 575.6h3.13v3.13h-3.13zM1669.8 560.9h3.13v3.13h-3.13zM1669.8 572.6h3.13v3.13h-3.13zM1672.8 558.0h3.13v3.13h-3.13zM1672.8 560.9h3.13v3.13h-3.13zM1672.8 569.7h3.13v3.13h-3.13zM1672.8 575.6h3.13v3.13h-3.13zM1672.8 610.7h3.13v3.13h-3.13zM1672.8 622.4h3.13v3.13h-3.13zM1672.8 625.3h3.13v3.13h-3.13zM1672.8 628.2h3.13v3.13h-3.13zM1672.8 631.2h3.13v3.13h-3.13zM1675.7 563.9h3.13v3.13h-3.13zM1675.7 566.8h3.13v3.13h-3.13zM1675.7 569.7h3.13v3.13h-3.13zM1675.7 578.5h3.13v3.13h-3.13zM1675.7 596.0h3.13v3.13h-3.13zM1675.7 601.9h3.13v3.13h-3.13zM1675.7 613.6h3.13v3.13h-3.13zM1678.6 563.9h3.13v3.13h-3.13zM1678.6 572.6h3.13v3.13h-3.13zM1678.6 584.3h3.13v3.13h-3.13zM1678.6 587.3h3.13v3.13h-3.13zM1678.6 604.8h3.13v3.13h-3.13zM1678.6 607.8h3.13v3.13h-3.13zM1678.6 610.7h3.13v3.13h-3.13zM1678.6 613.6h3.13v3.13h-3.13zM1678.6 628.2h3.13v3.13h-3.13zM1681.5 563.9h3.13v3.13h-3.13zM1681.5 575.6h3.13v3.13h-3.13zM1681.5 581.4h3.13v3.13h-3.13zM1681.5 590.2h3.13v3.13h-3.13zM1681.5 596.0h3.13v3.13h-3.13zM1681.5 601.9h3.13v3.13h-3.13zM1681.5 613.6h3.13v3.13h-3.13zM1681.5 616.5h3.13v3.13h-3.13zM1681.5 628.2h3.13v3.13h-3.13zM1681.5 631.2h3.13v3.13h-3.13zM1684.5 558.0h3.13v3.13h-3.13zM1684.5 584.3h3.13v3.13h-3.13zM1684.5 587.3h3.13v3.13h-3.13zM1684.5 590.2h3.13v3.13h-3.13zM1684.5 596.0h3.13v3.13h-3.13zM1684.5 610.7h3.13v3.13h-3.13zM1684.5 631.2h3.13v3.13h-3.13zM1687.4 584.3h3.13v3.13h-3.13zM1687.4 590.2h3.13v3.13h-3.13zM1687.4 593.1h3.13v3.13h-3.13zM1690.3 560.9h3.13v3.13h-3.13zM1690.3 563.9h3.13v3.13h-3.13zM1690.3 569.7h3.13v3.13h-3.13zM1690.3 578.5h3.13v3.13h-3.13zM1690.3 587.3h3.13v3.13h-3.13zM1693.2 558.0h3.13v3.13h-3.13zM1693.2 560.9h3.13v3.13h-3.13zM1693.2 578.5h3.13v3.13h-3.13zM1693.2 581.4h3.13v3.13h-3.13zM1693.2 584.3h3.13v3.13h-3.13zM1693.2 587.3h3.13v3.13h-3.13zM1693.2 593.1h3.13v3.13h-3.13zM1696.2 560.9h3.13v3.13h-3.13zM1696.2 563.9h3.13v3.13h-3.13zM1696.2 566.8h3.13v3.13h-3.13zM1696.2 587.3h3.13v3.13h-3.13zM1696.2 610.7h3.13v3.13h-3.13z"/>
<path fill="#5ec962" d="M1625.9 560.9h3.13v3.13h-3.13zM1625.9 628.2h3.13v3.13h-3.13zM1628.9 560.9h3.13v3.13h-3.13zM1628.9 631.2h3.13v3.13h-3.13zM1637.6 625.3h3.13v3.13h-3.13zM1643.5 569.7h3.13v3.13h-3.13zM1643.5 572.6h3.13v3.13h-3.13zM1646.4 587.3h3.13v3.13h-3.13zM1646.4 590.2h3.13v3.13h-3.13zM1649.3 584.3h3.13v3.13h-3.13zM1649.3 590.2h3.13v3.13h-3.13zM1652.3 590.2h3.13v3.13h-3.13zM1655.2 566.8h3.13v3.13h-3.13zM1655.2 593.1h3.13v3.13h-3.13zM1666.9 578.5h3.13v3.13h-3.13zM1666.9 581.4h3.13v3.13h-3.13zM1666.9 593.1h3.13v3.13h-3.13zM1666.9 601.9h3.13v3.13h-3.13zM1666.9 607.8h3.13v3.13h-3.13zM1666.9 625.3h3.13v3.13h-3.13zM1666.9 631.2h3.13v3.13h-3.13zM1669.8 578.5h3.13v3.13h-3.13zM1669.8 593.1h3.13v3.13h-3.13zM1669.8 596.0h3.13v3.13h-3.13zM1669.8 601.9h3.13v3.13h-3.13zM1669.8 616.5h3.13v3.13h-3.13zM1669.8 619.5h3.13v3.13h-3.13zM1669.8 625.3h3.13v3.13h-3.13zM1669.8 628.2h3.13v3.13h-3.13zM1669.8 631.2h3.13v3.13h-3.13zM1672.8 581.4h3.13v3.13h-3.13zM1672.8 587.3h3.13v3.13h-3.13zM1672.8 590.2h3.13v3.13h-3.13zM1678.6 622.4h3.13v3.13h-3.13zM1684.5 619.5h3.13v3.13h-3.13zM1687.4 619.5h3.13v3.13h-3.13zM1687.4 622.4h3.13v3.13h-3.13zM1690.3 613.6h3.13v3.13h-3.13zM1690.3 616.5h3.13v3.13h-3.13zM1693.2 625.3h3.13v3.13h-3.13zM1696.2 619.5h3.13v3.13h-3.13z"/>
<path fill="#84d44b" d="M1652.3 587.3h3.13v3.13h-3.13zM1655.2 590.2h3.13v3.13h-3.13zM1661.0 590.2h3.13v3.13h-3.13zM1666.9 584.3h3.13v3.13h-3.13zM1666.9 587.3h3.13v3.13h-3.13zM1666.9 604.8h3.13v3.13h-3.13zM1669.8 581.4h3.13v3.13h-3.13zM1669.8 584.3h3.13v3.13h-3.13zM1669.8 587.3h3.13v3.13h-3.13zM1669.8 622.4h3.13v3.13h-3.13z"/>
<path fill="#addc30" d="M1666.9 590.2h3.13v3.13h-3.13zM1669.8 590.2h3.13v3.13h-3.13z"/>
</g></g>
<text x="1633.49" y="657.40" font-size="24.86" textLength="49.37" lengthAdjust="spacingAndGlyphs" fill="#4a4a4a" style="font-weight:700;" >BEV</text>
<text x="1630.82" y="684.90" font-size="24.86" textLength="54.70" lengthAdjust="spacingAndGlyphs" fill="#4a4a4a" style="font-weight:700;" >Feat</text>
<rect x="1739.00" y="525.10" width="53.40" height="142.30" rx="13.00" fill="#ebebeb" stroke="#e2e2e2" stroke-width="0.80" filter="url(#sh)"/>
<g transform="translate(1755.3 0) rotate(90)"><text x="532.80" y="0" font-size="28.34" textLength="124.92" lengthAdjust="spacingAndGlyphs" fill="#4a4a4a" style="font-weight:700;" >ConvNext</text></g>
<clipPath id="sbc"><rect x="1833.2" y="558.0" width="75.8" height="74.9"/></clipPath>
<filter id="blr" x="-20%" y="-20%" width="140%" height="140%"><feGaussianBlur stdDeviation="2.6"/></filter>
<filter id="blr2" x="-20%" y="-20%" width="140%" height="140%"><feGaussianBlur stdDeviation="0.5"/></filter>
<g filter="url(#sh)"><rect x="1833.2" y="558.0" width="75.8" height="74.9" fill="#22a085"/></g>
<g clip-path="url(#sbc)">
<g filter="url(#blr)">
<rect x="1825" y="550" width="95" height="90" fill="#21a185"/>
<rect x="1826" y="552" width="8" height="86" fill="#2c728e"/>
<rect x="1838" y="560" width="24" height="26" rx="4" fill="#46327e"/>
<rect x="1896" y="560" width="16" height="30" rx="3" fill="#46327e"/>
<rect x="1830" y="616" width="30" height="20" rx="3" fill="#3b528b"/>
<rect x="1853" y="620" width="9" height="12" rx="3" fill="#46327e"/>
<rect x="1898" y="619" width="14" height="16" rx="3" fill="#3e4a89"/>
<path d="M1858 558 L1892 558 L1892 590 Q1892 594 1912 594 L1912 618 Q1892 618 1892 622 L1892 636 L1860 636 L1860 622 Q1860 618 1830 618 L1830 592 Q1860 592 1860 588 Z" fill="#4ec36b"/>
<rect x="1864" y="558" width="22" height="78" fill="#9ad93f"/>
<rect x="1830" y="597" width="82" height="16" fill="#9ad93f"/>
</g>
<g filter="url(#blr2)" fill="none" stroke="#f2e51d">
<path d="M1868.0 558 L1868.0 600" stroke-width="1.8"/>
<path d="M1872.5 558 L1872.5 600" stroke-width="1.8"/>
<path d="M1877.0 558 L1877.0 600" stroke-width="1.8"/>
<path d="M1881.6 558 L1881.6 600" stroke-width="1.8"/>
<path d="M1833 599.0 L1909 599.0" stroke-width="1.5" opacity="0.6"/>
<path d="M1833 603.0 L1909 603.0" stroke-width="1.5" opacity="0.6"/>
<path d="M1833 607.0 L1909 607.0" stroke-width="1.5" opacity="0.6"/>
<path d="M1833 611.0 L1909 611.0" stroke-width="1.5" opacity="0.6"/>
<path d="M1833 597 L1850 597 Q1865 597 1865 582 L1865 558" stroke-width="2.2"/>
<path d="M1909 599 L1896 599 Q1885 599 1885 588 L1885 558" stroke-width="2.2"/>
<path d="M1833 612 L1854 612 Q1869 612 1869 624 L1869 633" stroke-width="2.4"/>
<path d="M1909 613 L1897 613 Q1887 613 1887 622 L1887 633" stroke-width="2.4"/>
<rect x="1871" y="600" width="14" height="33" fill="#e3e21c" stroke="none" opacity="0.55"/>
</g>
</g>
<text x="1805.97" y="657.40" font-size="24.86" textLength="128.61" lengthAdjust="spacingAndGlyphs" fill="#4a4a4a" style="font-weight:700;" >Static BEV</text>
<text x="1842.42" y="684.90" font-size="24.86" textLength="54.70" lengthAdjust="spacingAndGlyphs" fill="#4a4a4a" style="font-weight:700;" >Feat</text>
<polygon points="1870.20,711.00 1877.30,697.30 1872.95,697.30 1872.95,687.30 1867.45,687.30 1867.45,697.30 1863.10,697.30" fill="#909090" />
<polygon points="1945.20,552.50 2001.50,567.50 2001.50,622.20 1945.20,636.40" fill="#ebebeb" filter="url(#sh)"/>
<text x="1951.27" y="592.10" font-size="21.80" textLength="45.66" lengthAdjust="spacingAndGlyphs" fill="#4a4a4a" style="font-weight:700;" >Map</text>
<text x="1954.87" y="614.00" font-size="21.80" textLength="39.88" lengthAdjust="spacingAndGlyphs" fill="#4a4a4a" style="font-weight:700;" >Seg</text>
<polygon points="2026.60,616.70 2067.60,576.20 2133.30,576.20 2092.30,616.70" fill="#ffffff" stroke="#8a8a8a" stroke-width="1.6" filter="url(#sh)"/>
<clipPath id="dac"><polygon points="2026.6,616.7 2067.6,576.2 2133.3,576.2 2092.3,616.7"/></clipPath>
<g clip-path="url(#dac)" fill="#4f5a52"><path d="M2025 597.5 L2064 597.8 Q2082 596 2088 585 L2094.8 576 L2110.8 576 L2097 590 Q2094 597 2102 599.6 L2135 600.3 L2135 606 L2088 605.3 L2075.1 617 L2061.6 617 L2070 607 Q2069 603.8 2060 603.5 L2025 602.7 Z"/></g>
<text x="2015.59" y="635.80" font-size="20.64" textLength="99.78" lengthAdjust="spacingAndGlyphs" fill="#4a4a4a" style="font-weight:700;" >Driv. Area</text>
<rect x="1657.80" y="714.30" width="69.80" height="54.10" rx="10.00" fill="#f7f7f7" stroke="#eeeeee" stroke-width="0.80" filter="url(#sh)"/>
<rect x="1674.70" y="720.50" width="40.10" height="41.50" rx="8.00" fill="#eef0e3" stroke="none" stroke-width="0.00" />
<rect x="1643.20" y="724.30" width="70.30" height="54.10" rx="10.00" fill="#f7f7f7" stroke="#eeeeee" stroke-width="0.80" filter="url(#sh)"/>
<rect x="1659.20" y="731.90" width="39.80" height="39.10" rx="8.00" fill="#b6c2a0" stroke="none" stroke-width="0.00" />
<rect x="1626.40" y="735.00" width="70.20" height="54.00" rx="10.00" fill="#f7f7f7" stroke="#eeeeee" stroke-width="0.80" filter="url(#sh)"/>
<rect x="1643.50" y="744.10" width="36.00" height="35.80" rx="8.00" fill="#ffffff" stroke="#4a6a5e" stroke-width="5.00" />
<path d="M1647.56 755.88 Q1658.22 755.88 1664.78 764.04" fill="none" stroke="#4a6a5e" stroke-width="5.25" stroke-linecap="butt" stroke-linejoin="round" />
<polygon points="1668.06,757.10 1675.44,773.02 1657.81,769.34" fill="#4a6a5e" />
<text x="1602.83" y="812.70" font-size="25.44" textLength="161.35" lengthAdjust="spacingAndGlyphs" fill="#4a4a4a" style="font-weight:700;" >Plan Queries</text>
<rect x="1780.40" y="711.90" width="176.80" height="74.70" rx="14.00" fill="#ebebeb" stroke="#e2e2e2" stroke-width="0.80" filter="url(#sh)"/>
<text x="1801.41" y="744.70" font-size="25.73" textLength="141.10" lengthAdjust="spacingAndGlyphs" fill="#4a4a4a" style="font-weight:700;" >Traj-guided</text>
<text x="1792.59" y="770.60" font-size="25.73" textLength="158.09" lengthAdjust="spacingAndGlyphs" fill="#4a4a4a" style="font-weight:700;" >Deform-Attn</text>
<rect x="1999.60" y="718.20" width="95.20" height="61.60" rx="14.00" fill="#ecede1" stroke="#e4e5d8" stroke-width="0.80" filter="url(#sh)"/>
<text x="2016.90" y="758.30" font-size="29.80" textLength="63.12" lengthAdjust="spacingAndGlyphs" fill="#4a4a4a" style="font-weight:700;" >MLP</text>
<rect x="2205.70" y="598.90" width="92.50" height="114.30" rx="5.00" fill="#ffffff" stroke="#eeeeee" stroke-width="1.00" filter="url(#sh)"/>
<rect x="2196.70" y="607.10" width="92.00" height="114.40" rx="5.00" fill="#ffffff" stroke="#eeeeee" stroke-width="1.00" filter="url(#sh)"/>
<rect x="2187.50" y="615.30" width="92.70" height="114.40" rx="5.00" fill="#ffffff" stroke="#eeeeee" stroke-width="1.00" filter="url(#sh)"/>
<rect x="2207.50" y="647.60" width="2.00" height="77.60" rx="0.00" fill="#7a7a7a" stroke="none" stroke-width="0.00" />
<path d="M2242.6 725 L2242.6 650 Q2243 627 2262 627 L2277.7 627" fill="none" stroke="#8a8a8a" stroke-width="2"/>
<linearGradient id="trg" x1="0" y1="0" x2="1" y2="0"><stop offset="0" stop-color="#6fa040"/><stop offset="0.45" stop-color="#7a9a38"/><stop offset="0.7" stop-color="#e8401a"/><stop offset="1" stop-color="#ee1a10"/></linearGradient>
<path d="M2224 676 Q2226 666 2232.6 665.1 Q2242 658 2252 655.6 L2262 654" fill="none" stroke="url(#trg)" stroke-width="4.5"/>
<circle cx="2232.6" cy="665.1" r="4.8" fill="#78a040"/><circle cx="2250.6" cy="655.6" r="5" fill="#e0401a"/>
<polygon points="2258.00,645.00 2271.90,653.00 2259.00,661.00" fill="#ee1a10" />
<rect x="2214.30" y="675.10" width="21.30" height="40.10" rx="6.39" fill="#4b5a4c"/>
<rect x="2211.30" y="689.54" width="27.30" height="1.60" rx="0.80" fill="#4b5a4c" stroke="none" stroke-width="0.00" />
<polygon points="2216.86,687.13 2233.04,687.13 2230.91,693.55 2218.99,693.55" fill="#1e2a20" />
<polygon points="2218.56,707.18 2231.34,707.18 2233.04,711.19 2216.86,711.19" fill="#1e2a20" />
<polygon points="2216.00,694.35 2218.56,695.95 2218.56,705.58 2216.00,707.18" fill="#1e2a20" />
<polygon points="2233.90,694.35 2231.34,695.95 2231.34,705.58 2233.90,707.18" fill="#1e2a20" />
<text x="2178.17" y="761.50" font-size="29.07" textLength="103.83" lengthAdjust="spacingAndGlyphs" fill="#4a4a4a" style="font-weight:700;" >TwDAC</text>
<text x="2187.12" y="792.80" font-size="29.07" textLength="85.03" lengthAdjust="spacingAndGlyphs" fill="#4a4a4a" style="font-weight:700;" >Score</text>
<path d="M2283 290.4 L2352.4 290.4 L2352.4 673 L2298 673" fill="none" stroke="#909090" stroke-width="8.5"/>
<polygon points="2350.00,467.30 2369.70,467.30 2369.70,460.50 2389.60,471.90 2369.70,481.20 2369.70,476.50 2350.00,476.50" fill="#909090" />
<path d="M2420 469 Q2437.6 462 2442 450 L2446 439" fill="none" stroke="#f85a5a" stroke-width="6.5"/>
<polygon points="2437.10,436.30 2452.60,413.80 2460.60,438.80" fill="#f85a5a" />
<path d="M2420 474 Q2452 476 2466 488 Q2472 498 2476 502 Q2480 507 2487 510" fill="none" stroke="#f85a5a" stroke-width="7"/>
<polygon points="2483.90,500.20 2509.00,515.20 2483.90,521.40" fill="#f85a5a" />
<rect x="2415.00" y="467.60" width="80.00" height="7.50" rx="0.00" fill="#72a046" stroke="none" stroke-width="0.00" />
<polygon points="2493.90,458.90 2518.20,469.60 2493.90,482.10" fill="#72a046" />
<circle cx="2412.6" cy="471.4" r="10" fill="#72a046"/>
<text x="2405.92" y="416.30" font-size="27.33" textLength="41.30" lengthAdjust="spacingAndGlyphs" fill="#e8321e" style="font-weight:700;" >0.1</text>
<text x="2471.41" y="452.10" font-size="27.33" textLength="45.22" lengthAdjust="spacingAndGlyphs" fill="#486a28" style="font-weight:700;" >0.7</text>
<text x="2436.83" y="535.20" font-size="27.33" textLength="44.66" lengthAdjust="spacingAndGlyphs" fill="#e8321e" style="font-weight:700;" >0.2</text>
<text x="2409.20" y="565.30" font-size="26.89" textLength="73.22" lengthAdjust="spacingAndGlyphs" fill="#4a4a4a" style="font-weight:700;" >Final</text>
<text x="2377.16" y="596.60" font-size="26.89" textLength="144.50" lengthAdjust="spacingAndGlyphs" fill="#4a4a4a" style="font-weight:700;" >Trajectory</text></svg></body></html>
